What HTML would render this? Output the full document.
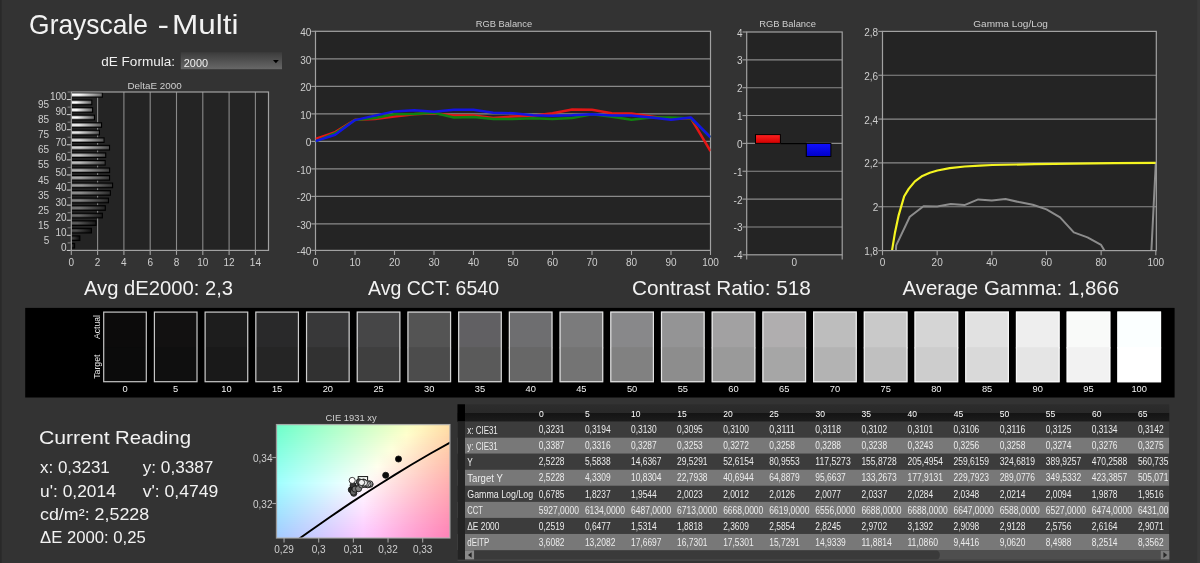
<!DOCTYPE html>
<html><head><meta charset="utf-8"><title>Grayscale - Multi</title>
<style>html,body{margin:0;padding:0;background:#333333;overflow:hidden}svg{display:block}text{font-family:"Liberation Sans",sans-serif}</style>
</head><body>
<svg width="1200" height="563" viewBox="0 0 1200 563">
<defs>
<linearGradient id="dd" x1="0" y1="0" x2="0" y2="1"><stop offset="0" stop-color="#3b3b3b"/><stop offset="1" stop-color="#686868"/></linearGradient>
<linearGradient id="cyl" x1="0" y1="0" x2="0" y2="1"><stop offset="0" stop-color="#000" stop-opacity="0.4"/><stop offset="0.4" stop-color="#000" stop-opacity="0"/><stop offset="0.6" stop-color="#000" stop-opacity="0"/><stop offset="1" stop-color="#000" stop-opacity="0.45"/></linearGradient>
<linearGradient id="b0" x1="0" y1="0" x2="1" y2="0"><stop offset="0" stop-color="rgb(47,47,47)"/><stop offset="0.25" stop-color="rgb(47,47,47)"/><stop offset="1" stop-color="rgb(4,4,4)"/></linearGradient>
<linearGradient id="b1" x1="0" y1="0" x2="1" y2="0"><stop offset="0" stop-color="rgb(59,59,59)"/><stop offset="0.25" stop-color="rgb(59,59,59)"/><stop offset="1" stop-color="rgb(9,9,9)"/></linearGradient>
<linearGradient id="b2" x1="0" y1="0" x2="1" y2="0"><stop offset="0" stop-color="rgb(76,76,76)"/><stop offset="0.25" stop-color="rgb(76,76,76)"/><stop offset="1" stop-color="rgb(16,16,16)"/></linearGradient>
<linearGradient id="b3" x1="0" y1="0" x2="1" y2="0"><stop offset="0" stop-color="rgb(91,91,91)"/><stop offset="0.25" stop-color="rgb(91,91,91)"/><stop offset="1" stop-color="rgb(23,23,23)"/></linearGradient>
<linearGradient id="b4" x1="0" y1="0" x2="1" y2="0"><stop offset="0" stop-color="rgb(104,104,104)"/><stop offset="0.25" stop-color="rgb(104,104,104)"/><stop offset="1" stop-color="rgb(29,29,29)"/></linearGradient>
<linearGradient id="b5" x1="0" y1="0" x2="1" y2="0"><stop offset="0" stop-color="rgb(117,117,117)"/><stop offset="0.25" stop-color="rgb(117,117,117)"/><stop offset="1" stop-color="rgb(35,35,35)"/></linearGradient>
<linearGradient id="b6" x1="0" y1="0" x2="1" y2="0"><stop offset="0" stop-color="rgb(130,130,130)"/><stop offset="0.25" stop-color="rgb(130,130,130)"/><stop offset="1" stop-color="rgb(40,40,40)"/></linearGradient>
<linearGradient id="b7" x1="0" y1="0" x2="1" y2="0"><stop offset="0" stop-color="rgb(142,142,142)"/><stop offset="0.25" stop-color="rgb(142,142,142)"/><stop offset="1" stop-color="rgb(46,46,46)"/></linearGradient>
<linearGradient id="b8" x1="0" y1="0" x2="1" y2="0"><stop offset="0" stop-color="rgb(154,154,154)"/><stop offset="0.25" stop-color="rgb(154,154,154)"/><stop offset="1" stop-color="rgb(51,51,51)"/></linearGradient>
<linearGradient id="b9" x1="0" y1="0" x2="1" y2="0"><stop offset="0" stop-color="rgb(166,166,166)"/><stop offset="0.25" stop-color="rgb(166,166,166)"/><stop offset="1" stop-color="rgb(56,56,56)"/></linearGradient>
<linearGradient id="b10" x1="0" y1="0" x2="1" y2="0"><stop offset="0" stop-color="rgb(176,176,176)"/><stop offset="0.25" stop-color="rgb(176,176,176)"/><stop offset="1" stop-color="rgb(61,61,61)"/></linearGradient>
<linearGradient id="b11" x1="0" y1="0" x2="1" y2="0"><stop offset="0" stop-color="rgb(188,188,188)"/><stop offset="0.25" stop-color="rgb(188,188,188)"/><stop offset="1" stop-color="rgb(66,66,66)"/></linearGradient>
<linearGradient id="b12" x1="0" y1="0" x2="1" y2="0"><stop offset="0" stop-color="rgb(198,198,198)"/><stop offset="0.25" stop-color="rgb(198,198,198)"/><stop offset="1" stop-color="rgb(70,70,70)"/></linearGradient>
<linearGradient id="b13" x1="0" y1="0" x2="1" y2="0"><stop offset="0" stop-color="rgb(209,209,209)"/><stop offset="0.25" stop-color="rgb(209,209,209)"/><stop offset="1" stop-color="rgb(76,76,76)"/></linearGradient>
<linearGradient id="b14" x1="0" y1="0" x2="1" y2="0"><stop offset="0" stop-color="rgb(220,220,220)"/><stop offset="0.25" stop-color="rgb(220,220,220)"/><stop offset="1" stop-color="rgb(80,80,80)"/></linearGradient>
<linearGradient id="b15" x1="0" y1="0" x2="1" y2="0"><stop offset="0" stop-color="rgb(230,230,230)"/><stop offset="0.25" stop-color="rgb(230,230,230)"/><stop offset="1" stop-color="rgb(85,85,85)"/></linearGradient>
<linearGradient id="b16" x1="0" y1="0" x2="1" y2="0"><stop offset="0" stop-color="rgb(240,240,240)"/><stop offset="0.25" stop-color="rgb(240,240,240)"/><stop offset="1" stop-color="rgb(89,89,89)"/></linearGradient>
<linearGradient id="b17" x1="0" y1="0" x2="1" y2="0"><stop offset="0" stop-color="rgb(250,250,250)"/><stop offset="0.25" stop-color="rgb(250,250,250)"/><stop offset="1" stop-color="rgb(94,94,94)"/></linearGradient>
<linearGradient id="b18" x1="0" y1="0" x2="1" y2="0"><stop offset="0" stop-color="rgb(255,255,255)"/><stop offset="0.25" stop-color="rgb(255,255,255)"/><stop offset="1" stop-color="rgb(98,98,98)"/></linearGradient>
<linearGradient id="b19" x1="0" y1="0" x2="1" y2="0"><stop offset="0" stop-color="rgb(255,255,255)"/><stop offset="0.25" stop-color="rgb(255,255,255)"/><stop offset="1" stop-color="rgb(102,102,102)"/></linearGradient>
<linearGradient id="b20" x1="0" y1="0" x2="1" y2="0"><stop offset="0" stop-color="rgb(255,255,255)"/><stop offset="0.25" stop-color="rgb(255,255,255)"/><stop offset="1" stop-color="rgb(107,107,107)"/></linearGradient>
<clipPath id="rc"><rect x="315.5" y="31.3" width="395.0" height="219.1"/></clipPath>
<linearGradient id="rg" x1="0" y1="0" x2="0" y2="1"><stop offset="0" stop-color="#ff2020"/><stop offset="1" stop-color="#d00000"/></linearGradient>
<linearGradient id="bg" x1="0" y1="0" x2="0" y2="1"><stop offset="0" stop-color="#1010ff"/><stop offset="1" stop-color="#0000c8"/></linearGradient>
<clipPath id="gc"><rect x="882.5" y="31.4" width="273.79999999999995" height="219.2"/></clipPath>
<linearGradient id="c0" x1="0" y1="0" x2="1" y2="0"><stop offset="0.0000" stop-color="rgb(109, 255, 202)"/><stop offset="0.0833" stop-color="rgb(125, 255, 201)"/><stop offset="0.1667" stop-color="rgb(142, 255, 200)"/><stop offset="0.2500" stop-color="rgb(157, 255, 200)"/><stop offset="0.3333" stop-color="rgb(173, 255, 199)"/><stop offset="0.4167" stop-color="rgb(188, 255, 199)"/><stop offset="0.5000" stop-color="rgb(203, 255, 198)"/><stop offset="0.5833" stop-color="rgb(217, 255, 197)"/><stop offset="0.6667" stop-color="rgb(232, 255, 197)"/><stop offset="0.7500" stop-color="rgb(246, 255, 196)"/><stop offset="0.8333" stop-color="rgb(255, 250, 190)"/><stop offset="0.9167" stop-color="rgb(255, 236, 177)"/><stop offset="1.0000" stop-color="rgb(255, 223, 165)"/></linearGradient>
<linearGradient id="c1" x1="0" y1="0" x2="1" y2="0"><stop offset="0.0000" stop-color="rgb(111, 255, 203)"/><stop offset="0.0833" stop-color="rgb(127, 255, 203)"/><stop offset="0.1667" stop-color="rgb(143, 255, 202)"/><stop offset="0.2500" stop-color="rgb(159, 255, 202)"/><stop offset="0.3333" stop-color="rgb(174, 255, 201)"/><stop offset="0.4167" stop-color="rgb(189, 255, 200)"/><stop offset="0.5000" stop-color="rgb(204, 255, 200)"/><stop offset="0.5833" stop-color="rgb(219, 255, 199)"/><stop offset="0.6667" stop-color="rgb(234, 255, 198)"/><stop offset="0.7500" stop-color="rgb(248, 255, 198)"/><stop offset="0.8333" stop-color="rgb(255, 248, 191)"/><stop offset="0.9167" stop-color="rgb(255, 234, 178)"/><stop offset="1.0000" stop-color="rgb(255, 222, 165)"/></linearGradient>
<linearGradient id="c2" x1="0" y1="0" x2="1" y2="0"><stop offset="0.0000" stop-color="rgb(112, 255, 205)"/><stop offset="0.0833" stop-color="rgb(129, 255, 205)"/><stop offset="0.1667" stop-color="rgb(145, 255, 204)"/><stop offset="0.2500" stop-color="rgb(161, 255, 203)"/><stop offset="0.3333" stop-color="rgb(176, 255, 203)"/><stop offset="0.4167" stop-color="rgb(191, 255, 202)"/><stop offset="0.5000" stop-color="rgb(206, 255, 202)"/><stop offset="0.5833" stop-color="rgb(221, 255, 201)"/><stop offset="0.6667" stop-color="rgb(235, 255, 200)"/><stop offset="0.7500" stop-color="rgb(250, 255, 200)"/><stop offset="0.8333" stop-color="rgb(255, 246, 191)"/><stop offset="0.9167" stop-color="rgb(255, 233, 178)"/><stop offset="1.0000" stop-color="rgb(255, 220, 166)"/></linearGradient>
<linearGradient id="c3" x1="0" y1="0" x2="1" y2="0"><stop offset="0.0000" stop-color="rgb(114, 255, 207)"/><stop offset="0.0833" stop-color="rgb(130, 255, 206)"/><stop offset="0.1667" stop-color="rgb(147, 255, 206)"/><stop offset="0.2500" stop-color="rgb(162, 255, 205)"/><stop offset="0.3333" stop-color="rgb(178, 255, 205)"/><stop offset="0.4167" stop-color="rgb(193, 255, 204)"/><stop offset="0.5000" stop-color="rgb(208, 255, 203)"/><stop offset="0.5833" stop-color="rgb(223, 255, 203)"/><stop offset="0.6667" stop-color="rgb(237, 255, 202)"/><stop offset="0.7500" stop-color="rgb(252, 255, 202)"/><stop offset="0.8333" stop-color="rgb(255, 244, 191)"/><stop offset="0.9167" stop-color="rgb(255, 231, 178)"/><stop offset="1.0000" stop-color="rgb(255, 218, 166)"/></linearGradient>
<linearGradient id="c4" x1="0" y1="0" x2="1" y2="0"><stop offset="0.0000" stop-color="rgb(116, 255, 209)"/><stop offset="0.0833" stop-color="rgb(132, 255, 208)"/><stop offset="0.1667" stop-color="rgb(148, 255, 208)"/><stop offset="0.2500" stop-color="rgb(164, 255, 207)"/><stop offset="0.3333" stop-color="rgb(179, 255, 206)"/><stop offset="0.4167" stop-color="rgb(195, 255, 206)"/><stop offset="0.5000" stop-color="rgb(210, 255, 205)"/><stop offset="0.5833" stop-color="rgb(224, 255, 205)"/><stop offset="0.6667" stop-color="rgb(239, 255, 204)"/><stop offset="0.7500" stop-color="rgb(253, 255, 204)"/><stop offset="0.8333" stop-color="rgb(255, 243, 192)"/><stop offset="0.9167" stop-color="rgb(255, 229, 179)"/><stop offset="1.0000" stop-color="rgb(255, 217, 167)"/></linearGradient>
<linearGradient id="c5" x1="0" y1="0" x2="1" y2="0"><stop offset="0.0000" stop-color="rgb(117, 255, 210)"/><stop offset="0.0833" stop-color="rgb(134, 255, 210)"/><stop offset="0.1667" stop-color="rgb(150, 255, 209)"/><stop offset="0.2500" stop-color="rgb(166, 255, 209)"/><stop offset="0.3333" stop-color="rgb(181, 255, 208)"/><stop offset="0.4167" stop-color="rgb(196, 255, 208)"/><stop offset="0.5000" stop-color="rgb(211, 255, 207)"/><stop offset="0.5833" stop-color="rgb(226, 255, 207)"/><stop offset="0.6667" stop-color="rgb(241, 255, 206)"/><stop offset="0.7500" stop-color="rgb(255, 255, 205)"/><stop offset="0.8333" stop-color="rgb(255, 241, 192)"/><stop offset="0.9167" stop-color="rgb(255, 228, 179)"/><stop offset="1.0000" stop-color="rgb(255, 215, 167)"/></linearGradient>
<linearGradient id="c6" x1="0" y1="0" x2="1" y2="0"><stop offset="0.0000" stop-color="rgb(119, 255, 212)"/><stop offset="0.0833" stop-color="rgb(135, 255, 212)"/><stop offset="0.1667" stop-color="rgb(152, 255, 211)"/><stop offset="0.2500" stop-color="rgb(167, 255, 211)"/><stop offset="0.3333" stop-color="rgb(183, 255, 210)"/><stop offset="0.4167" stop-color="rgb(198, 255, 210)"/><stop offset="0.5000" stop-color="rgb(213, 255, 209)"/><stop offset="0.5833" stop-color="rgb(228, 255, 209)"/><stop offset="0.6667" stop-color="rgb(243, 255, 208)"/><stop offset="0.7500" stop-color="rgb(255, 253, 206)"/><stop offset="0.8333" stop-color="rgb(255, 239, 192)"/><stop offset="0.9167" stop-color="rgb(255, 226, 179)"/><stop offset="1.0000" stop-color="rgb(255, 213, 167)"/></linearGradient>
<linearGradient id="c7" x1="0" y1="0" x2="1" y2="0"><stop offset="0.0000" stop-color="rgb(121, 255, 214)"/><stop offset="0.0833" stop-color="rgb(137, 255, 213)"/><stop offset="0.1667" stop-color="rgb(153, 255, 213)"/><stop offset="0.2500" stop-color="rgb(169, 255, 213)"/><stop offset="0.3333" stop-color="rgb(185, 255, 212)"/><stop offset="0.4167" stop-color="rgb(200, 255, 212)"/><stop offset="0.5000" stop-color="rgb(215, 255, 211)"/><stop offset="0.5833" stop-color="rgb(230, 255, 211)"/><stop offset="0.6667" stop-color="rgb(244, 255, 210)"/><stop offset="0.7500" stop-color="rgb(255, 251, 206)"/><stop offset="0.8333" stop-color="rgb(255, 237, 193)"/><stop offset="0.9167" stop-color="rgb(255, 224, 180)"/><stop offset="1.0000" stop-color="rgb(255, 212, 168)"/></linearGradient>
<linearGradient id="c8" x1="0" y1="0" x2="1" y2="0"><stop offset="0.0000" stop-color="rgb(122, 255, 216)"/><stop offset="0.0833" stop-color="rgb(139, 255, 215)"/><stop offset="0.1667" stop-color="rgb(155, 255, 215)"/><stop offset="0.2500" stop-color="rgb(171, 255, 214)"/><stop offset="0.3333" stop-color="rgb(186, 255, 214)"/><stop offset="0.4167" stop-color="rgb(202, 255, 213)"/><stop offset="0.5000" stop-color="rgb(217, 255, 213)"/><stop offset="0.5833" stop-color="rgb(231, 255, 212)"/><stop offset="0.6667" stop-color="rgb(246, 255, 212)"/><stop offset="0.7500" stop-color="rgb(255, 249, 206)"/><stop offset="0.8333" stop-color="rgb(255, 236, 193)"/><stop offset="0.9167" stop-color="rgb(255, 222, 180)"/><stop offset="1.0000" stop-color="rgb(255, 210, 168)"/></linearGradient>
<linearGradient id="c9" x1="0" y1="0" x2="1" y2="0"><stop offset="0.0000" stop-color="rgb(124, 255, 217)"/><stop offset="0.0833" stop-color="rgb(140, 255, 217)"/><stop offset="0.1667" stop-color="rgb(157, 255, 217)"/><stop offset="0.2500" stop-color="rgb(172, 255, 216)"/><stop offset="0.3333" stop-color="rgb(188, 255, 216)"/><stop offset="0.4167" stop-color="rgb(203, 255, 215)"/><stop offset="0.5000" stop-color="rgb(218, 255, 215)"/><stop offset="0.5833" stop-color="rgb(233, 255, 214)"/><stop offset="0.6667" stop-color="rgb(248, 255, 214)"/><stop offset="0.7500" stop-color="rgb(255, 248, 207)"/><stop offset="0.8333" stop-color="rgb(255, 234, 193)"/><stop offset="0.9167" stop-color="rgb(255, 221, 180)"/><stop offset="1.0000" stop-color="rgb(255, 208, 168)"/></linearGradient>
<linearGradient id="c10" x1="0" y1="0" x2="1" y2="0"><stop offset="0.0000" stop-color="rgb(126, 255, 219)"/><stop offset="0.0833" stop-color="rgb(142, 255, 219)"/><stop offset="0.1667" stop-color="rgb(158, 255, 219)"/><stop offset="0.2500" stop-color="rgb(174, 255, 218)"/><stop offset="0.3333" stop-color="rgb(190, 255, 218)"/><stop offset="0.4167" stop-color="rgb(205, 255, 217)"/><stop offset="0.5000" stop-color="rgb(220, 255, 217)"/><stop offset="0.5833" stop-color="rgb(235, 255, 216)"/><stop offset="0.6667" stop-color="rgb(250, 255, 216)"/><stop offset="0.7500" stop-color="rgb(255, 246, 207)"/><stop offset="0.8333" stop-color="rgb(255, 232, 193)"/><stop offset="0.9167" stop-color="rgb(255, 219, 181)"/><stop offset="1.0000" stop-color="rgb(255, 207, 169)"/></linearGradient>
<linearGradient id="c11" x1="0" y1="0" x2="1" y2="0"><stop offset="0.0000" stop-color="rgb(127, 255, 221)"/><stop offset="0.0833" stop-color="rgb(144, 255, 221)"/><stop offset="0.1667" stop-color="rgb(160, 255, 220)"/><stop offset="0.2500" stop-color="rgb(176, 255, 220)"/><stop offset="0.3333" stop-color="rgb(191, 255, 220)"/><stop offset="0.4167" stop-color="rgb(207, 255, 219)"/><stop offset="0.5000" stop-color="rgb(222, 255, 219)"/><stop offset="0.5833" stop-color="rgb(237, 255, 218)"/><stop offset="0.6667" stop-color="rgb(252, 255, 218)"/><stop offset="0.7500" stop-color="rgb(255, 244, 207)"/><stop offset="0.8333" stop-color="rgb(255, 230, 194)"/><stop offset="0.9167" stop-color="rgb(255, 217, 181)"/><stop offset="1.0000" stop-color="rgb(255, 205, 169)"/></linearGradient>
<linearGradient id="c12" x1="0" y1="0" x2="1" y2="0"><stop offset="0.0000" stop-color="rgb(129, 255, 223)"/><stop offset="0.0833" stop-color="rgb(146, 255, 223)"/><stop offset="0.1667" stop-color="rgb(162, 255, 222)"/><stop offset="0.2500" stop-color="rgb(178, 255, 222)"/><stop offset="0.3333" stop-color="rgb(193, 255, 221)"/><stop offset="0.4167" stop-color="rgb(209, 255, 221)"/><stop offset="0.5000" stop-color="rgb(224, 255, 221)"/><stop offset="0.5833" stop-color="rgb(239, 255, 220)"/><stop offset="0.6667" stop-color="rgb(253, 255, 220)"/><stop offset="0.7500" stop-color="rgb(255, 242, 207)"/><stop offset="0.8333" stop-color="rgb(255, 229, 194)"/><stop offset="0.9167" stop-color="rgb(255, 216, 181)"/><stop offset="1.0000" stop-color="rgb(255, 203, 169)"/></linearGradient>
<linearGradient id="c13" x1="0" y1="0" x2="1" y2="0"><stop offset="0.0000" stop-color="rgb(131, 255, 225)"/><stop offset="0.0833" stop-color="rgb(147, 255, 224)"/><stop offset="0.1667" stop-color="rgb(163, 255, 224)"/><stop offset="0.2500" stop-color="rgb(179, 255, 224)"/><stop offset="0.3333" stop-color="rgb(195, 255, 223)"/><stop offset="0.4167" stop-color="rgb(210, 255, 223)"/><stop offset="0.5000" stop-color="rgb(226, 255, 223)"/><stop offset="0.5833" stop-color="rgb(241, 255, 222)"/><stop offset="0.6667" stop-color="rgb(255, 255, 222)"/><stop offset="0.7500" stop-color="rgb(255, 240, 208)"/><stop offset="0.8333" stop-color="rgb(255, 227, 194)"/><stop offset="0.9167" stop-color="rgb(255, 214, 182)"/><stop offset="1.0000" stop-color="rgb(255, 202, 170)"/></linearGradient>
<linearGradient id="c14" x1="0" y1="0" x2="1" y2="0"><stop offset="0.0000" stop-color="rgb(132, 255, 227)"/><stop offset="0.0833" stop-color="rgb(149, 255, 226)"/><stop offset="0.1667" stop-color="rgb(165, 255, 226)"/><stop offset="0.2500" stop-color="rgb(181, 255, 226)"/><stop offset="0.3333" stop-color="rgb(197, 255, 225)"/><stop offset="0.4167" stop-color="rgb(212, 255, 225)"/><stop offset="0.5000" stop-color="rgb(227, 255, 225)"/><stop offset="0.5833" stop-color="rgb(242, 255, 224)"/><stop offset="0.6667" stop-color="rgb(255, 253, 222)"/><stop offset="0.7500" stop-color="rgb(255, 239, 208)"/><stop offset="0.8333" stop-color="rgb(255, 225, 195)"/><stop offset="0.9167" stop-color="rgb(255, 212, 182)"/><stop offset="1.0000" stop-color="rgb(255, 200, 170)"/></linearGradient>
<linearGradient id="c15" x1="0" y1="0" x2="1" y2="0"><stop offset="0.0000" stop-color="rgb(134, 255, 228)"/><stop offset="0.0833" stop-color="rgb(151, 255, 228)"/><stop offset="0.1667" stop-color="rgb(167, 255, 228)"/><stop offset="0.2500" stop-color="rgb(183, 255, 228)"/><stop offset="0.3333" stop-color="rgb(199, 255, 227)"/><stop offset="0.4167" stop-color="rgb(214, 255, 227)"/><stop offset="0.5000" stop-color="rgb(229, 255, 227)"/><stop offset="0.5833" stop-color="rgb(244, 255, 226)"/><stop offset="0.6667" stop-color="rgb(255, 251, 222)"/><stop offset="0.7500" stop-color="rgb(255, 237, 208)"/><stop offset="0.8333" stop-color="rgb(255, 223, 195)"/><stop offset="0.9167" stop-color="rgb(255, 210, 182)"/><stop offset="1.0000" stop-color="rgb(255, 198, 171)"/></linearGradient>
<linearGradient id="c16" x1="0" y1="0" x2="1" y2="0"><stop offset="0.0000" stop-color="rgb(136, 255, 230)"/><stop offset="0.0833" stop-color="rgb(152, 255, 230)"/><stop offset="0.1667" stop-color="rgb(169, 255, 230)"/><stop offset="0.2500" stop-color="rgb(185, 255, 229)"/><stop offset="0.3333" stop-color="rgb(200, 255, 229)"/><stop offset="0.4167" stop-color="rgb(216, 255, 229)"/><stop offset="0.5000" stop-color="rgb(231, 255, 229)"/><stop offset="0.5833" stop-color="rgb(246, 255, 228)"/><stop offset="0.6667" stop-color="rgb(255, 249, 222)"/><stop offset="0.7500" stop-color="rgb(255, 235, 208)"/><stop offset="0.8333" stop-color="rgb(255, 221, 195)"/><stop offset="0.9167" stop-color="rgb(255, 209, 183)"/><stop offset="1.0000" stop-color="rgb(255, 197, 171)"/></linearGradient>
<linearGradient id="c17" x1="0" y1="0" x2="1" y2="0"><stop offset="0.0000" stop-color="rgb(138, 255, 232)"/><stop offset="0.0833" stop-color="rgb(154, 255, 232)"/><stop offset="0.1667" stop-color="rgb(170, 255, 232)"/><stop offset="0.2500" stop-color="rgb(186, 255, 231)"/><stop offset="0.3333" stop-color="rgb(202, 255, 231)"/><stop offset="0.4167" stop-color="rgb(218, 255, 231)"/><stop offset="0.5000" stop-color="rgb(233, 255, 231)"/><stop offset="0.5833" stop-color="rgb(248, 255, 230)"/><stop offset="0.6667" stop-color="rgb(255, 247, 223)"/><stop offset="0.7500" stop-color="rgb(255, 233, 209)"/><stop offset="0.8333" stop-color="rgb(255, 220, 196)"/><stop offset="0.9167" stop-color="rgb(255, 207, 183)"/><stop offset="1.0000" stop-color="rgb(255, 195, 171)"/></linearGradient>
<linearGradient id="c18" x1="0" y1="0" x2="1" y2="0"><stop offset="0.0000" stop-color="rgb(139, 255, 234)"/><stop offset="0.0833" stop-color="rgb(156, 255, 234)"/><stop offset="0.1667" stop-color="rgb(172, 255, 234)"/><stop offset="0.2500" stop-color="rgb(188, 255, 233)"/><stop offset="0.3333" stop-color="rgb(204, 255, 233)"/><stop offset="0.4167" stop-color="rgb(219, 255, 233)"/><stop offset="0.5000" stop-color="rgb(235, 255, 233)"/><stop offset="0.5833" stop-color="rgb(250, 255, 232)"/><stop offset="0.6667" stop-color="rgb(255, 245, 223)"/><stop offset="0.7500" stop-color="rgb(255, 231, 209)"/><stop offset="0.8333" stop-color="rgb(255, 218, 196)"/><stop offset="0.9167" stop-color="rgb(255, 205, 183)"/><stop offset="1.0000" stop-color="rgb(255, 193, 172)"/></linearGradient>
<linearGradient id="c19" x1="0" y1="0" x2="1" y2="0"><stop offset="0.0000" stop-color="rgb(141, 255, 236)"/><stop offset="0.0833" stop-color="rgb(158, 255, 236)"/><stop offset="0.1667" stop-color="rgb(174, 255, 235)"/><stop offset="0.2500" stop-color="rgb(190, 255, 235)"/><stop offset="0.3333" stop-color="rgb(206, 255, 235)"/><stop offset="0.4167" stop-color="rgb(221, 255, 235)"/><stop offset="0.5000" stop-color="rgb(237, 255, 235)"/><stop offset="0.5833" stop-color="rgb(252, 255, 234)"/><stop offset="0.6667" stop-color="rgb(255, 244, 223)"/><stop offset="0.7500" stop-color="rgb(255, 230, 209)"/><stop offset="0.8333" stop-color="rgb(255, 216, 196)"/><stop offset="0.9167" stop-color="rgb(255, 204, 184)"/><stop offset="1.0000" stop-color="rgb(255, 192, 172)"/></linearGradient>
<linearGradient id="c20" x1="0" y1="0" x2="1" y2="0"><stop offset="0.0000" stop-color="rgb(143, 255, 238)"/><stop offset="0.0833" stop-color="rgb(159, 255, 238)"/><stop offset="0.1667" stop-color="rgb(176, 255, 237)"/><stop offset="0.2500" stop-color="rgb(192, 255, 237)"/><stop offset="0.3333" stop-color="rgb(208, 255, 237)"/><stop offset="0.4167" stop-color="rgb(223, 255, 237)"/><stop offset="0.5000" stop-color="rgb(238, 255, 237)"/><stop offset="0.5833" stop-color="rgb(254, 255, 236)"/><stop offset="0.6667" stop-color="rgb(255, 242, 223)"/><stop offset="0.7500" stop-color="rgb(255, 228, 210)"/><stop offset="0.8333" stop-color="rgb(255, 215, 197)"/><stop offset="0.9167" stop-color="rgb(255, 202, 184)"/><stop offset="1.0000" stop-color="rgb(255, 190, 172)"/></linearGradient>
<linearGradient id="c21" x1="0" y1="0" x2="1" y2="0"><stop offset="0.0000" stop-color="rgb(145, 255, 240)"/><stop offset="0.0833" stop-color="rgb(161, 255, 239)"/><stop offset="0.1667" stop-color="rgb(178, 255, 239)"/><stop offset="0.2500" stop-color="rgb(194, 255, 239)"/><stop offset="0.3333" stop-color="rgb(209, 255, 239)"/><stop offset="0.4167" stop-color="rgb(225, 255, 239)"/><stop offset="0.5000" stop-color="rgb(240, 255, 239)"/><stop offset="0.5833" stop-color="rgb(255, 255, 238)"/><stop offset="0.6667" stop-color="rgb(255, 240, 224)"/><stop offset="0.7500" stop-color="rgb(255, 226, 210)"/><stop offset="0.8333" stop-color="rgb(255, 213, 197)"/><stop offset="0.9167" stop-color="rgb(255, 200, 184)"/><stop offset="1.0000" stop-color="rgb(255, 188, 173)"/></linearGradient>
<linearGradient id="c22" x1="0" y1="0" x2="1" y2="0"><stop offset="0.0000" stop-color="rgb(146, 255, 242)"/><stop offset="0.0833" stop-color="rgb(163, 255, 241)"/><stop offset="0.1667" stop-color="rgb(179, 255, 241)"/><stop offset="0.2500" stop-color="rgb(195, 255, 241)"/><stop offset="0.3333" stop-color="rgb(211, 255, 241)"/><stop offset="0.4167" stop-color="rgb(227, 255, 241)"/><stop offset="0.5000" stop-color="rgb(242, 255, 241)"/><stop offset="0.5833" stop-color="rgb(255, 253, 238)"/><stop offset="0.6667" stop-color="rgb(255, 238, 224)"/><stop offset="0.7500" stop-color="rgb(255, 224, 210)"/><stop offset="0.8333" stop-color="rgb(255, 211, 197)"/><stop offset="0.9167" stop-color="rgb(255, 199, 185)"/><stop offset="1.0000" stop-color="rgb(255, 187, 173)"/></linearGradient>
<linearGradient id="c23" x1="0" y1="0" x2="1" y2="0"><stop offset="0.0000" stop-color="rgb(148, 255, 243)"/><stop offset="0.0833" stop-color="rgb(165, 255, 243)"/><stop offset="0.1667" stop-color="rgb(181, 255, 243)"/><stop offset="0.2500" stop-color="rgb(197, 255, 243)"/><stop offset="0.3333" stop-color="rgb(213, 255, 243)"/><stop offset="0.4167" stop-color="rgb(229, 255, 243)"/><stop offset="0.5000" stop-color="rgb(244, 255, 243)"/><stop offset="0.5833" stop-color="rgb(255, 251, 238)"/><stop offset="0.6667" stop-color="rgb(255, 236, 224)"/><stop offset="0.7500" stop-color="rgb(255, 222, 210)"/><stop offset="0.8333" stop-color="rgb(255, 209, 197)"/><stop offset="0.9167" stop-color="rgb(255, 197, 185)"/><stop offset="1.0000" stop-color="rgb(255, 185, 173)"/></linearGradient>
<linearGradient id="c24" x1="0" y1="0" x2="1" y2="0"><stop offset="0.0000" stop-color="rgb(150, 255, 245)"/><stop offset="0.0833" stop-color="rgb(167, 255, 245)"/><stop offset="0.1667" stop-color="rgb(183, 255, 245)"/><stop offset="0.2500" stop-color="rgb(199, 255, 245)"/><stop offset="0.3333" stop-color="rgb(215, 255, 245)"/><stop offset="0.4167" stop-color="rgb(231, 255, 245)"/><stop offset="0.5000" stop-color="rgb(246, 255, 245)"/><stop offset="0.5833" stop-color="rgb(255, 249, 239)"/><stop offset="0.6667" stop-color="rgb(255, 234, 224)"/><stop offset="0.7500" stop-color="rgb(255, 221, 211)"/><stop offset="0.8333" stop-color="rgb(255, 208, 198)"/><stop offset="0.9167" stop-color="rgb(255, 195, 185)"/><stop offset="1.0000" stop-color="rgb(255, 183, 174)"/></linearGradient>
<linearGradient id="c25" x1="0" y1="0" x2="1" y2="0"><stop offset="0.0000" stop-color="rgb(152, 255, 247)"/><stop offset="0.0833" stop-color="rgb(168, 255, 247)"/><stop offset="0.1667" stop-color="rgb(185, 255, 247)"/><stop offset="0.2500" stop-color="rgb(201, 255, 247)"/><stop offset="0.3333" stop-color="rgb(217, 255, 247)"/><stop offset="0.4167" stop-color="rgb(232, 255, 247)"/><stop offset="0.5000" stop-color="rgb(248, 255, 247)"/><stop offset="0.5833" stop-color="rgb(255, 247, 239)"/><stop offset="0.6667" stop-color="rgb(255, 232, 224)"/><stop offset="0.7500" stop-color="rgb(255, 219, 211)"/><stop offset="0.8333" stop-color="rgb(255, 206, 198)"/><stop offset="0.9167" stop-color="rgb(255, 193, 186)"/><stop offset="1.0000" stop-color="rgb(255, 182, 174)"/></linearGradient>
<linearGradient id="c26" x1="0" y1="0" x2="1" y2="0"><stop offset="0.0000" stop-color="rgb(153, 255, 249)"/><stop offset="0.0833" stop-color="rgb(170, 255, 249)"/><stop offset="0.1667" stop-color="rgb(187, 255, 249)"/><stop offset="0.2500" stop-color="rgb(203, 255, 249)"/><stop offset="0.3333" stop-color="rgb(219, 255, 249)"/><stop offset="0.4167" stop-color="rgb(234, 255, 249)"/><stop offset="0.5000" stop-color="rgb(250, 255, 249)"/><stop offset="0.5833" stop-color="rgb(255, 245, 239)"/><stop offset="0.6667" stop-color="rgb(255, 231, 225)"/><stop offset="0.7500" stop-color="rgb(255, 217, 211)"/><stop offset="0.8333" stop-color="rgb(255, 204, 198)"/><stop offset="0.9167" stop-color="rgb(255, 192, 186)"/><stop offset="1.0000" stop-color="rgb(255, 180, 174)"/></linearGradient>
<linearGradient id="c27" x1="0" y1="0" x2="1" y2="0"><stop offset="0.0000" stop-color="rgb(155, 255, 251)"/><stop offset="0.0833" stop-color="rgb(172, 255, 251)"/><stop offset="0.1667" stop-color="rgb(188, 255, 251)"/><stop offset="0.2500" stop-color="rgb(205, 255, 251)"/><stop offset="0.3333" stop-color="rgb(220, 255, 251)"/><stop offset="0.4167" stop-color="rgb(236, 255, 251)"/><stop offset="0.5000" stop-color="rgb(252, 255, 251)"/><stop offset="0.5833" stop-color="rgb(255, 243, 239)"/><stop offset="0.6667" stop-color="rgb(255, 229, 225)"/><stop offset="0.7500" stop-color="rgb(255, 215, 211)"/><stop offset="0.8333" stop-color="rgb(255, 202, 199)"/><stop offset="0.9167" stop-color="rgb(255, 190, 186)"/><stop offset="1.0000" stop-color="rgb(255, 178, 175)"/></linearGradient>
<linearGradient id="c28" x1="0" y1="0" x2="1" y2="0"><stop offset="0.0000" stop-color="rgb(157, 255, 253)"/><stop offset="0.0833" stop-color="rgb(174, 255, 253)"/><stop offset="0.1667" stop-color="rgb(190, 255, 253)"/><stop offset="0.2500" stop-color="rgb(206, 255, 253)"/><stop offset="0.3333" stop-color="rgb(222, 255, 253)"/><stop offset="0.4167" stop-color="rgb(238, 255, 253)"/><stop offset="0.5000" stop-color="rgb(254, 255, 253)"/><stop offset="0.5833" stop-color="rgb(255, 241, 239)"/><stop offset="0.6667" stop-color="rgb(255, 227, 225)"/><stop offset="0.7500" stop-color="rgb(255, 213, 212)"/><stop offset="0.8333" stop-color="rgb(255, 201, 199)"/><stop offset="0.9167" stop-color="rgb(255, 188, 187)"/><stop offset="1.0000" stop-color="rgb(255, 177, 175)"/></linearGradient>
<linearGradient id="c29" x1="0" y1="0" x2="1" y2="0"><stop offset="0.0000" stop-color="rgb(159, 255, 255)"/><stop offset="0.0833" stop-color="rgb(176, 255, 255)"/><stop offset="0.1667" stop-color="rgb(192, 255, 255)"/><stop offset="0.2500" stop-color="rgb(208, 255, 255)"/><stop offset="0.3333" stop-color="rgb(224, 255, 255)"/><stop offset="0.4167" stop-color="rgb(240, 255, 255)"/><stop offset="0.5000" stop-color="rgb(255, 254, 255)"/><stop offset="0.5833" stop-color="rgb(255, 239, 240)"/><stop offset="0.6667" stop-color="rgb(255, 225, 225)"/><stop offset="0.7500" stop-color="rgb(255, 212, 212)"/><stop offset="0.8333" stop-color="rgb(255, 199, 199)"/><stop offset="0.9167" stop-color="rgb(255, 187, 187)"/><stop offset="1.0000" stop-color="rgb(255, 175, 175)"/></linearGradient>
<linearGradient id="c30" x1="0" y1="0" x2="1" y2="0"><stop offset="0.0000" stop-color="rgb(159, 253, 255)"/><stop offset="0.0833" stop-color="rgb(176, 253, 255)"/><stop offset="0.1667" stop-color="rgb(192, 253, 255)"/><stop offset="0.2500" stop-color="rgb(208, 253, 255)"/><stop offset="0.3333" stop-color="rgb(224, 253, 255)"/><stop offset="0.4167" stop-color="rgb(240, 253, 255)"/><stop offset="0.5000" stop-color="rgb(255, 252, 255)"/><stop offset="0.5833" stop-color="rgb(255, 237, 240)"/><stop offset="0.6667" stop-color="rgb(255, 223, 226)"/><stop offset="0.7500" stop-color="rgb(255, 210, 212)"/><stop offset="0.8333" stop-color="rgb(255, 197, 199)"/><stop offset="0.9167" stop-color="rgb(255, 185, 187)"/><stop offset="1.0000" stop-color="rgb(255, 173, 176)"/></linearGradient>
<linearGradient id="c31" x1="0" y1="0" x2="1" y2="0"><stop offset="0.0000" stop-color="rgb(159, 251, 255)"/><stop offset="0.0833" stop-color="rgb(176, 251, 255)"/><stop offset="0.1667" stop-color="rgb(192, 251, 255)"/><stop offset="0.2500" stop-color="rgb(208, 251, 255)"/><stop offset="0.3333" stop-color="rgb(224, 251, 255)"/><stop offset="0.4167" stop-color="rgb(240, 251, 255)"/><stop offset="0.5000" stop-color="rgb(255, 250, 255)"/><stop offset="0.5833" stop-color="rgb(255, 236, 240)"/><stop offset="0.6667" stop-color="rgb(255, 221, 226)"/><stop offset="0.7500" stop-color="rgb(255, 208, 212)"/><stop offset="0.8333" stop-color="rgb(255, 195, 200)"/><stop offset="0.9167" stop-color="rgb(255, 183, 188)"/><stop offset="1.0000" stop-color="rgb(255, 172, 176)"/></linearGradient>
<linearGradient id="c32" x1="0" y1="0" x2="1" y2="0"><stop offset="0.0000" stop-color="rgb(159, 249, 255)"/><stop offset="0.0833" stop-color="rgb(176, 249, 255)"/><stop offset="0.1667" stop-color="rgb(192, 249, 255)"/><stop offset="0.2500" stop-color="rgb(208, 249, 255)"/><stop offset="0.3333" stop-color="rgb(224, 249, 255)"/><stop offset="0.4167" stop-color="rgb(240, 249, 255)"/><stop offset="0.5000" stop-color="rgb(255, 248, 255)"/><stop offset="0.5833" stop-color="rgb(255, 234, 240)"/><stop offset="0.6667" stop-color="rgb(255, 220, 226)"/><stop offset="0.7500" stop-color="rgb(255, 206, 213)"/><stop offset="0.8333" stop-color="rgb(255, 194, 200)"/><stop offset="0.9167" stop-color="rgb(255, 182, 188)"/><stop offset="1.0000" stop-color="rgb(255, 170, 176)"/></linearGradient>
<linearGradient id="c33" x1="0" y1="0" x2="1" y2="0"><stop offset="0.0000" stop-color="rgb(159, 247, 255)"/><stop offset="0.0833" stop-color="rgb(176, 247, 255)"/><stop offset="0.1667" stop-color="rgb(192, 247, 255)"/><stop offset="0.2500" stop-color="rgb(208, 247, 255)"/><stop offset="0.3333" stop-color="rgb(224, 247, 255)"/><stop offset="0.4167" stop-color="rgb(239, 247, 255)"/><stop offset="0.5000" stop-color="rgb(255, 246, 255)"/><stop offset="0.5833" stop-color="rgb(255, 232, 240)"/><stop offset="0.6667" stop-color="rgb(255, 218, 226)"/><stop offset="0.7500" stop-color="rgb(255, 205, 213)"/><stop offset="0.8333" stop-color="rgb(255, 192, 200)"/><stop offset="0.9167" stop-color="rgb(255, 180, 188)"/><stop offset="1.0000" stop-color="rgb(255, 168, 177)"/></linearGradient>
<linearGradient id="c34" x1="0" y1="0" x2="1" y2="0"><stop offset="0.0000" stop-color="rgb(160, 245, 255)"/><stop offset="0.0833" stop-color="rgb(176, 245, 255)"/><stop offset="0.1667" stop-color="rgb(192, 245, 255)"/><stop offset="0.2500" stop-color="rgb(208, 245, 255)"/><stop offset="0.3333" stop-color="rgb(224, 245, 255)"/><stop offset="0.4167" stop-color="rgb(239, 244, 255)"/><stop offset="0.5000" stop-color="rgb(255, 244, 255)"/><stop offset="0.5833" stop-color="rgb(255, 230, 240)"/><stop offset="0.6667" stop-color="rgb(255, 216, 226)"/><stop offset="0.7500" stop-color="rgb(255, 203, 213)"/><stop offset="0.8333" stop-color="rgb(255, 190, 201)"/><stop offset="0.9167" stop-color="rgb(255, 178, 188)"/><stop offset="1.0000" stop-color="rgb(255, 167, 177)"/></linearGradient>
<linearGradient id="c35" x1="0" y1="0" x2="1" y2="0"><stop offset="0.0000" stop-color="rgb(160, 243, 255)"/><stop offset="0.0833" stop-color="rgb(176, 243, 255)"/><stop offset="0.1667" stop-color="rgb(192, 243, 255)"/><stop offset="0.2500" stop-color="rgb(208, 243, 255)"/><stop offset="0.3333" stop-color="rgb(224, 243, 255)"/><stop offset="0.4167" stop-color="rgb(239, 242, 255)"/><stop offset="0.5000" stop-color="rgb(255, 242, 255)"/><stop offset="0.5833" stop-color="rgb(255, 228, 241)"/><stop offset="0.6667" stop-color="rgb(255, 214, 227)"/><stop offset="0.7500" stop-color="rgb(255, 201, 213)"/><stop offset="0.8333" stop-color="rgb(255, 188, 201)"/><stop offset="0.9167" stop-color="rgb(255, 176, 189)"/><stop offset="1.0000" stop-color="rgb(255, 165, 177)"/></linearGradient>
<linearGradient id="c36" x1="0" y1="0" x2="1" y2="0"><stop offset="0.0000" stop-color="rgb(160, 241, 255)"/><stop offset="0.0833" stop-color="rgb(176, 241, 255)"/><stop offset="0.1667" stop-color="rgb(192, 241, 255)"/><stop offset="0.2500" stop-color="rgb(208, 241, 255)"/><stop offset="0.3333" stop-color="rgb(224, 241, 255)"/><stop offset="0.4167" stop-color="rgb(239, 240, 255)"/><stop offset="0.5000" stop-color="rgb(254, 240, 255)"/><stop offset="0.5833" stop-color="rgb(255, 226, 241)"/><stop offset="0.6667" stop-color="rgb(255, 212, 227)"/><stop offset="0.7500" stop-color="rgb(255, 199, 214)"/><stop offset="0.8333" stop-color="rgb(255, 187, 201)"/><stop offset="0.9167" stop-color="rgb(255, 175, 189)"/><stop offset="1.0000" stop-color="rgb(255, 163, 178)"/></linearGradient>
<linearGradient id="c37" x1="0" y1="0" x2="1" y2="0"><stop offset="0.0000" stop-color="rgb(160, 239, 255)"/><stop offset="0.0833" stop-color="rgb(176, 239, 255)"/><stop offset="0.1667" stop-color="rgb(192, 239, 255)"/><stop offset="0.2500" stop-color="rgb(208, 239, 255)"/><stop offset="0.3333" stop-color="rgb(224, 239, 255)"/><stop offset="0.4167" stop-color="rgb(239, 238, 255)"/><stop offset="0.5000" stop-color="rgb(254, 238, 255)"/><stop offset="0.5833" stop-color="rgb(255, 224, 241)"/><stop offset="0.6667" stop-color="rgb(255, 210, 227)"/><stop offset="0.7500" stop-color="rgb(255, 197, 214)"/><stop offset="0.8333" stop-color="rgb(255, 185, 201)"/><stop offset="0.9167" stop-color="rgb(255, 173, 189)"/><stop offset="1.0000" stop-color="rgb(255, 162, 178)"/></linearGradient>
<linearGradient id="c38" x1="0" y1="0" x2="1" y2="0"><stop offset="0.0000" stop-color="rgb(160, 237, 255)"/><stop offset="0.0833" stop-color="rgb(176, 237, 255)"/><stop offset="0.1667" stop-color="rgb(192, 237, 255)"/><stop offset="0.2500" stop-color="rgb(208, 237, 255)"/><stop offset="0.3333" stop-color="rgb(224, 236, 255)"/><stop offset="0.4167" stop-color="rgb(239, 236, 255)"/><stop offset="0.5000" stop-color="rgb(254, 236, 255)"/><stop offset="0.5833" stop-color="rgb(255, 222, 241)"/><stop offset="0.6667" stop-color="rgb(255, 209, 227)"/><stop offset="0.7500" stop-color="rgb(255, 196, 214)"/><stop offset="0.8333" stop-color="rgb(255, 183, 202)"/><stop offset="0.9167" stop-color="rgb(255, 171, 190)"/><stop offset="1.0000" stop-color="rgb(255, 160, 178)"/></linearGradient>
<linearGradient id="c39" x1="0" y1="0" x2="1" y2="0"><stop offset="0.0000" stop-color="rgb(160, 236, 255)"/><stop offset="0.0833" stop-color="rgb(177, 235, 255)"/><stop offset="0.1667" stop-color="rgb(192, 235, 255)"/><stop offset="0.2500" stop-color="rgb(208, 235, 255)"/><stop offset="0.3333" stop-color="rgb(224, 234, 255)"/><stop offset="0.4167" stop-color="rgb(239, 234, 255)"/><stop offset="0.5000" stop-color="rgb(254, 234, 255)"/><stop offset="0.5833" stop-color="rgb(255, 220, 241)"/><stop offset="0.6667" stop-color="rgb(255, 207, 228)"/><stop offset="0.7500" stop-color="rgb(255, 194, 214)"/><stop offset="0.8333" stop-color="rgb(255, 181, 202)"/><stop offset="0.9167" stop-color="rgb(255, 170, 190)"/><stop offset="1.0000" stop-color="rgb(255, 158, 179)"/></linearGradient>
<linearGradient id="c40" x1="0" y1="0" x2="1" y2="0"><stop offset="0.0000" stop-color="rgb(160, 234, 255)"/><stop offset="0.0833" stop-color="rgb(177, 233, 255)"/><stop offset="0.1667" stop-color="rgb(193, 233, 255)"/><stop offset="0.2500" stop-color="rgb(208, 233, 255)"/><stop offset="0.3333" stop-color="rgb(224, 232, 255)"/><stop offset="0.4167" stop-color="rgb(239, 232, 255)"/><stop offset="0.5000" stop-color="rgb(254, 232, 255)"/><stop offset="0.5833" stop-color="rgb(255, 219, 242)"/><stop offset="0.6667" stop-color="rgb(255, 205, 228)"/><stop offset="0.7500" stop-color="rgb(255, 192, 215)"/><stop offset="0.8333" stop-color="rgb(255, 180, 202)"/><stop offset="0.9167" stop-color="rgb(255, 168, 190)"/><stop offset="1.0000" stop-color="rgb(255, 157, 179)"/></linearGradient>
<linearGradient id="c41" x1="0" y1="0" x2="1" y2="0"><stop offset="0.0000" stop-color="rgb(161, 232, 255)"/><stop offset="0.0833" stop-color="rgb(177, 231, 255)"/><stop offset="0.1667" stop-color="rgb(193, 231, 255)"/><stop offset="0.2500" stop-color="rgb(208, 231, 255)"/><stop offset="0.3333" stop-color="rgb(224, 230, 255)"/><stop offset="0.4167" stop-color="rgb(239, 230, 255)"/><stop offset="0.5000" stop-color="rgb(254, 230, 255)"/><stop offset="0.5833" stop-color="rgb(255, 217, 242)"/><stop offset="0.6667" stop-color="rgb(255, 203, 228)"/><stop offset="0.7500" stop-color="rgb(255, 190, 215)"/><stop offset="0.8333" stop-color="rgb(255, 178, 202)"/><stop offset="0.9167" stop-color="rgb(255, 166, 191)"/><stop offset="1.0000" stop-color="rgb(255, 155, 179)"/></linearGradient>
<linearGradient id="c42" x1="0" y1="0" x2="1" y2="0"><stop offset="0.0000" stop-color="rgb(161, 230, 255)"/><stop offset="0.0833" stop-color="rgb(177, 229, 255)"/><stop offset="0.1667" stop-color="rgb(193, 229, 255)"/><stop offset="0.2500" stop-color="rgb(208, 229, 255)"/><stop offset="0.3333" stop-color="rgb(223, 228, 255)"/><stop offset="0.4167" stop-color="rgb(239, 228, 255)"/><stop offset="0.5000" stop-color="rgb(254, 228, 255)"/><stop offset="0.5833" stop-color="rgb(255, 215, 242)"/><stop offset="0.6667" stop-color="rgb(255, 201, 228)"/><stop offset="0.7500" stop-color="rgb(255, 188, 215)"/><stop offset="0.8333" stop-color="rgb(255, 176, 203)"/><stop offset="0.9167" stop-color="rgb(255, 165, 191)"/><stop offset="1.0000" stop-color="rgb(255, 153, 180)"/></linearGradient>
<linearGradient id="c43" x1="0" y1="0" x2="1" y2="0"><stop offset="0.0000" stop-color="rgb(161, 228, 255)"/><stop offset="0.0833" stop-color="rgb(177, 227, 255)"/><stop offset="0.1667" stop-color="rgb(193, 227, 255)"/><stop offset="0.2500" stop-color="rgb(208, 227, 255)"/><stop offset="0.3333" stop-color="rgb(223, 226, 255)"/><stop offset="0.4167" stop-color="rgb(238, 226, 255)"/><stop offset="0.5000" stop-color="rgb(253, 226, 255)"/><stop offset="0.5833" stop-color="rgb(255, 213, 242)"/><stop offset="0.6667" stop-color="rgb(255, 200, 228)"/><stop offset="0.7500" stop-color="rgb(255, 187, 215)"/><stop offset="0.8333" stop-color="rgb(255, 175, 203)"/><stop offset="0.9167" stop-color="rgb(255, 163, 191)"/><stop offset="1.0000" stop-color="rgb(255, 152, 180)"/></linearGradient>
<linearGradient id="c44" x1="0" y1="0" x2="1" y2="0"><stop offset="0.0000" stop-color="rgb(161, 226, 255)"/><stop offset="0.0833" stop-color="rgb(177, 226, 255)"/><stop offset="0.1667" stop-color="rgb(193, 225, 255)"/><stop offset="0.2500" stop-color="rgb(208, 225, 255)"/><stop offset="0.3333" stop-color="rgb(223, 224, 255)"/><stop offset="0.4167" stop-color="rgb(238, 224, 255)"/><stop offset="0.5000" stop-color="rgb(253, 224, 255)"/><stop offset="0.5833" stop-color="rgb(255, 211, 242)"/><stop offset="0.6667" stop-color="rgb(255, 198, 229)"/><stop offset="0.7500" stop-color="rgb(255, 185, 216)"/><stop offset="0.8333" stop-color="rgb(255, 173, 203)"/><stop offset="0.9167" stop-color="rgb(255, 161, 191)"/><stop offset="1.0000" stop-color="rgb(255, 150, 180)"/></linearGradient>
<linearGradient id="c45" x1="0" y1="0" x2="1" y2="0"><stop offset="0.0000" stop-color="rgb(161, 224, 255)"/><stop offset="0.0833" stop-color="rgb(177, 224, 255)"/><stop offset="0.1667" stop-color="rgb(193, 223, 255)"/><stop offset="0.2500" stop-color="rgb(208, 223, 255)"/><stop offset="0.3333" stop-color="rgb(223, 222, 255)"/><stop offset="0.4167" stop-color="rgb(238, 222, 255)"/><stop offset="0.5000" stop-color="rgb(253, 222, 255)"/><stop offset="0.5833" stop-color="rgb(255, 209, 242)"/><stop offset="0.6667" stop-color="rgb(255, 196, 229)"/><stop offset="0.7500" stop-color="rgb(255, 183, 216)"/><stop offset="0.8333" stop-color="rgb(255, 171, 203)"/><stop offset="0.9167" stop-color="rgb(255, 159, 192)"/><stop offset="1.0000" stop-color="rgb(255, 148, 180)"/></linearGradient>
<linearGradient id="c46" x1="0" y1="0" x2="1" y2="0"><stop offset="0.0000" stop-color="rgb(161, 222, 255)"/><stop offset="0.0833" stop-color="rgb(177, 222, 255)"/><stop offset="0.1667" stop-color="rgb(193, 221, 255)"/><stop offset="0.2500" stop-color="rgb(208, 221, 255)"/><stop offset="0.3333" stop-color="rgb(223, 220, 255)"/><stop offset="0.4167" stop-color="rgb(238, 220, 255)"/><stop offset="0.5000" stop-color="rgb(253, 219, 255)"/><stop offset="0.5833" stop-color="rgb(255, 207, 243)"/><stop offset="0.6667" stop-color="rgb(255, 194, 229)"/><stop offset="0.7500" stop-color="rgb(255, 181, 216)"/><stop offset="0.8333" stop-color="rgb(255, 169, 204)"/><stop offset="0.9167" stop-color="rgb(255, 158, 192)"/><stop offset="1.0000" stop-color="rgb(255, 147, 181)"/></linearGradient>
<linearGradient id="c47" x1="0" y1="0" x2="1" y2="0"><stop offset="0.0000" stop-color="rgb(162, 220, 255)"/><stop offset="0.0833" stop-color="rgb(177, 220, 255)"/><stop offset="0.1667" stop-color="rgb(193, 219, 255)"/><stop offset="0.2500" stop-color="rgb(208, 219, 255)"/><stop offset="0.3333" stop-color="rgb(223, 218, 255)"/><stop offset="0.4167" stop-color="rgb(238, 218, 255)"/><stop offset="0.5000" stop-color="rgb(253, 217, 255)"/><stop offset="0.5833" stop-color="rgb(255, 205, 243)"/><stop offset="0.6667" stop-color="rgb(255, 192, 229)"/><stop offset="0.7500" stop-color="rgb(255, 180, 216)"/><stop offset="0.8333" stop-color="rgb(255, 168, 204)"/><stop offset="0.9167" stop-color="rgb(255, 156, 192)"/><stop offset="1.0000" stop-color="rgb(255, 145, 181)"/></linearGradient>
<linearGradient id="c48" x1="0" y1="0" x2="1" y2="0"><stop offset="0.0000" stop-color="rgb(162, 218, 255)"/><stop offset="0.0833" stop-color="rgb(177, 218, 255)"/><stop offset="0.1667" stop-color="rgb(193, 217, 255)"/><stop offset="0.2500" stop-color="rgb(208, 217, 255)"/><stop offset="0.3333" stop-color="rgb(223, 216, 255)"/><stop offset="0.4167" stop-color="rgb(238, 216, 255)"/><stop offset="0.5000" stop-color="rgb(253, 215, 255)"/><stop offset="0.5833" stop-color="rgb(255, 204, 243)"/><stop offset="0.6667" stop-color="rgb(255, 190, 229)"/><stop offset="0.7500" stop-color="rgb(255, 178, 217)"/><stop offset="0.8333" stop-color="rgb(255, 166, 204)"/><stop offset="0.9167" stop-color="rgb(255, 154, 193)"/><stop offset="1.0000" stop-color="rgb(255, 143, 181)"/></linearGradient>
<linearGradient id="c49" x1="0" y1="0" x2="1" y2="0"><stop offset="0.0000" stop-color="rgb(162, 216, 255)"/><stop offset="0.0833" stop-color="rgb(177, 216, 255)"/><stop offset="0.1667" stop-color="rgb(193, 215, 255)"/><stop offset="0.2500" stop-color="rgb(208, 215, 255)"/><stop offset="0.3333" stop-color="rgb(223, 214, 255)"/><stop offset="0.4167" stop-color="rgb(238, 214, 255)"/><stop offset="0.5000" stop-color="rgb(253, 213, 255)"/><stop offset="0.5833" stop-color="rgb(255, 202, 243)"/><stop offset="0.6667" stop-color="rgb(255, 189, 230)"/><stop offset="0.7500" stop-color="rgb(255, 176, 217)"/><stop offset="0.8333" stop-color="rgb(255, 164, 205)"/><stop offset="0.9167" stop-color="rgb(255, 153, 193)"/><stop offset="1.0000" stop-color="rgb(255, 142, 182)"/></linearGradient>
<linearGradient id="c50" x1="0" y1="0" x2="1" y2="0"><stop offset="0.0000" stop-color="rgb(162, 214, 255)"/><stop offset="0.0833" stop-color="rgb(178, 214, 255)"/><stop offset="0.1667" stop-color="rgb(193, 213, 255)"/><stop offset="0.2500" stop-color="rgb(208, 213, 255)"/><stop offset="0.3333" stop-color="rgb(223, 212, 255)"/><stop offset="0.4167" stop-color="rgb(238, 212, 255)"/><stop offset="0.5000" stop-color="rgb(252, 211, 255)"/><stop offset="0.5833" stop-color="rgb(255, 200, 243)"/><stop offset="0.6667" stop-color="rgb(255, 187, 230)"/><stop offset="0.7500" stop-color="rgb(255, 174, 217)"/><stop offset="0.8333" stop-color="rgb(255, 162, 205)"/><stop offset="0.9167" stop-color="rgb(255, 151, 193)"/><stop offset="1.0000" stop-color="rgb(255, 140, 182)"/></linearGradient>
<linearGradient id="c51" x1="0" y1="0" x2="1" y2="0"><stop offset="0.0000" stop-color="rgb(162, 213, 255)"/><stop offset="0.0833" stop-color="rgb(178, 212, 255)"/><stop offset="0.1667" stop-color="rgb(193, 212, 255)"/><stop offset="0.2500" stop-color="rgb(208, 211, 255)"/><stop offset="0.3333" stop-color="rgb(223, 210, 255)"/><stop offset="0.4167" stop-color="rgb(238, 210, 255)"/><stop offset="0.5000" stop-color="rgb(252, 209, 255)"/><stop offset="0.5833" stop-color="rgb(255, 198, 244)"/><stop offset="0.6667" stop-color="rgb(255, 185, 230)"/><stop offset="0.7500" stop-color="rgb(255, 172, 217)"/><stop offset="0.8333" stop-color="rgb(255, 161, 205)"/><stop offset="0.9167" stop-color="rgb(255, 149, 193)"/><stop offset="1.0000" stop-color="rgb(255, 138, 182)"/></linearGradient>
<linearGradient id="c52" x1="0" y1="0" x2="1" y2="0"><stop offset="0.0000" stop-color="rgb(162, 211, 255)"/><stop offset="0.0833" stop-color="rgb(178, 210, 255)"/><stop offset="0.1667" stop-color="rgb(193, 210, 255)"/><stop offset="0.2500" stop-color="rgb(208, 209, 255)"/><stop offset="0.3333" stop-color="rgb(223, 208, 255)"/><stop offset="0.4167" stop-color="rgb(238, 208, 255)"/><stop offset="0.5000" stop-color="rgb(252, 207, 255)"/><stop offset="0.5833" stop-color="rgb(255, 196, 244)"/><stop offset="0.6667" stop-color="rgb(255, 183, 230)"/><stop offset="0.7500" stop-color="rgb(255, 171, 217)"/><stop offset="0.8333" stop-color="rgb(255, 159, 205)"/><stop offset="0.9167" stop-color="rgb(255, 148, 194)"/><stop offset="1.0000" stop-color="rgb(255, 137, 183)"/></linearGradient>
<linearGradient id="c53" x1="0" y1="0" x2="1" y2="0"><stop offset="0.0000" stop-color="rgb(162, 209, 255)"/><stop offset="0.0833" stop-color="rgb(178, 208, 255)"/><stop offset="0.1667" stop-color="rgb(193, 208, 255)"/><stop offset="0.2500" stop-color="rgb(208, 207, 255)"/><stop offset="0.3333" stop-color="rgb(223, 206, 255)"/><stop offset="0.4167" stop-color="rgb(238, 206, 255)"/><stop offset="0.5000" stop-color="rgb(252, 205, 255)"/><stop offset="0.5833" stop-color="rgb(255, 194, 244)"/><stop offset="0.6667" stop-color="rgb(255, 181, 230)"/><stop offset="0.7500" stop-color="rgb(255, 169, 218)"/><stop offset="0.8333" stop-color="rgb(255, 157, 206)"/><stop offset="0.9167" stop-color="rgb(255, 146, 194)"/><stop offset="1.0000" stop-color="rgb(255, 135, 183)"/></linearGradient>
<linearGradient id="c54" x1="0" y1="0" x2="1" y2="0"><stop offset="0.0000" stop-color="rgb(162, 207, 255)"/><stop offset="0.0833" stop-color="rgb(178, 206, 255)"/><stop offset="0.1667" stop-color="rgb(193, 206, 255)"/><stop offset="0.2500" stop-color="rgb(208, 205, 255)"/><stop offset="0.3333" stop-color="rgb(223, 204, 255)"/><stop offset="0.4167" stop-color="rgb(237, 204, 255)"/><stop offset="0.5000" stop-color="rgb(252, 203, 255)"/><stop offset="0.5833" stop-color="rgb(255, 192, 244)"/><stop offset="0.6667" stop-color="rgb(255, 179, 231)"/><stop offset="0.7500" stop-color="rgb(255, 167, 218)"/><stop offset="0.8333" stop-color="rgb(255, 155, 206)"/><stop offset="0.9167" stop-color="rgb(255, 144, 194)"/><stop offset="1.0000" stop-color="rgb(255, 133, 183)"/></linearGradient>
<linearGradient id="c55" x1="0" y1="0" x2="1" y2="0"><stop offset="0.0000" stop-color="rgb(163, 205, 255)"/><stop offset="0.0833" stop-color="rgb(178, 204, 255)"/><stop offset="0.1667" stop-color="rgb(193, 204, 255)"/><stop offset="0.2500" stop-color="rgb(208, 203, 255)"/><stop offset="0.3333" stop-color="rgb(223, 202, 255)"/><stop offset="0.4167" stop-color="rgb(237, 202, 255)"/><stop offset="0.5000" stop-color="rgb(252, 201, 255)"/><stop offset="0.5833" stop-color="rgb(255, 191, 244)"/><stop offset="0.6667" stop-color="rgb(255, 178, 231)"/><stop offset="0.7500" stop-color="rgb(255, 165, 218)"/><stop offset="0.8333" stop-color="rgb(255, 154, 206)"/><stop offset="0.9167" stop-color="rgb(255, 142, 194)"/><stop offset="1.0000" stop-color="rgb(255, 132, 183)"/></linearGradient>
<linearGradient id="c56" x1="0" y1="0" x2="1" y2="0"><stop offset="0.0000" stop-color="rgb(163, 203, 255)"/><stop offset="0.0833" stop-color="rgb(178, 202, 255)"/><stop offset="0.1667" stop-color="rgb(193, 202, 255)"/><stop offset="0.2500" stop-color="rgb(208, 201, 255)"/><stop offset="0.3333" stop-color="rgb(223, 200, 255)"/><stop offset="0.4167" stop-color="rgb(237, 200, 255)"/><stop offset="0.5000" stop-color="rgb(252, 199, 255)"/><stop offset="0.5833" stop-color="rgb(255, 189, 244)"/><stop offset="0.6667" stop-color="rgb(255, 176, 231)"/><stop offset="0.7500" stop-color="rgb(255, 164, 218)"/><stop offset="0.8333" stop-color="rgb(255, 152, 206)"/><stop offset="0.9167" stop-color="rgb(255, 141, 195)"/><stop offset="1.0000" stop-color="rgb(255, 130, 184)"/></linearGradient>
<linearGradient id="c57" x1="0" y1="0" x2="1" y2="0"><stop offset="0.0000" stop-color="rgb(163, 201, 255)"/><stop offset="0.0833" stop-color="rgb(178, 201, 255)"/><stop offset="0.1667" stop-color="rgb(193, 200, 255)"/><stop offset="0.2500" stop-color="rgb(208, 199, 255)"/><stop offset="0.3333" stop-color="rgb(223, 199, 255)"/><stop offset="0.4167" stop-color="rgb(237, 198, 255)"/><stop offset="0.5000" stop-color="rgb(251, 197, 255)"/><stop offset="0.5833" stop-color="rgb(255, 187, 245)"/><stop offset="0.6667" stop-color="rgb(255, 174, 231)"/><stop offset="0.7500" stop-color="rgb(255, 162, 219)"/><stop offset="0.8333" stop-color="rgb(255, 150, 207)"/><stop offset="0.9167" stop-color="rgb(255, 139, 195)"/><stop offset="1.0000" stop-color="rgb(255, 128, 184)"/></linearGradient>
<clipPath id="cc"><rect x="276.5" y="424.6" width="173.39999999999998" height="113.39999999999998"/></clipPath>
<linearGradient id="th" x1="0" y1="0" x2="0" y2="1"><stop offset="0" stop-color="#2c2c2c"/><stop offset="0.5" stop-color="#292929"/><stop offset="0.5" stop-color="#141414"/><stop offset="1" stop-color="#1c1c1c"/></linearGradient>
<clipPath id="tc"><rect x="457.5" y="404" width="711.8" height="157"/></clipPath>
</defs>
<g>
<rect x="0" y="0" width="1200" height="563" fill="#333333"/>
<rect x="180.8" y="52.2" width="101.2" height="17" fill="url(#dd)"/>
<path d="M273 60 L278.8 60 L275.9 63.2 Z" fill="#000"/>
<rect x="71.3" y="92.0" width="197.2" height="158.4" fill="#242424"/>
<line x1="97.60" y1="92.0" x2="97.60" y2="250.4" stroke="#8a8a8a" stroke-width="1.1"/>
<line x1="123.90" y1="92.0" x2="123.90" y2="250.4" stroke="#8a8a8a" stroke-width="1.1"/>
<line x1="150.20" y1="92.0" x2="150.20" y2="250.4" stroke="#8a8a8a" stroke-width="1.1"/>
<line x1="176.50" y1="92.0" x2="176.50" y2="250.4" stroke="#8a8a8a" stroke-width="1.1"/>
<line x1="202.80" y1="92.0" x2="202.80" y2="250.4" stroke="#8a8a8a" stroke-width="1.1"/>
<line x1="229.10" y1="92.0" x2="229.10" y2="250.4" stroke="#8a8a8a" stroke-width="1.1"/>
<line x1="255.40" y1="92.0" x2="255.40" y2="250.4" stroke="#8a8a8a" stroke-width="1.1"/>
<rect x="71.3" y="243.43" width="3.31" height="4.6" fill="url(#b0)" stroke="#000" stroke-width="1.1"/>
<rect x="71.3" y="243.93" width="2.81" height="3.6" fill="url(#cyl)"/>
<rect x="71.3" y="235.89" width="8.52" height="4.6" fill="url(#b1)" stroke="#000" stroke-width="1.1"/>
<rect x="71.3" y="236.39" width="8.02" height="3.6" fill="url(#cyl)"/>
<rect x="71.3" y="228.34" width="20.14" height="4.6" fill="url(#b2)" stroke="#000" stroke-width="1.1"/>
<rect x="71.3" y="228.84" width="19.64" height="3.6" fill="url(#cyl)"/>
<rect x="71.3" y="220.80" width="24.75" height="4.6" fill="url(#b3)" stroke="#000" stroke-width="1.1"/>
<rect x="71.3" y="221.30" width="24.25" height="3.6" fill="url(#cyl)"/>
<rect x="71.3" y="213.26" width="31.05" height="4.6" fill="url(#b4)" stroke="#000" stroke-width="1.1"/>
<rect x="71.3" y="213.76" width="30.55" height="3.6" fill="url(#cyl)"/>
<rect x="71.3" y="205.71" width="34.00" height="4.6" fill="url(#b5)" stroke="#000" stroke-width="1.1"/>
<rect x="71.3" y="206.21" width="33.50" height="3.6" fill="url(#cyl)"/>
<rect x="71.3" y="198.17" width="37.14" height="4.6" fill="url(#b6)" stroke="#000" stroke-width="1.1"/>
<rect x="71.3" y="198.67" width="36.64" height="3.6" fill="url(#cyl)"/>
<rect x="71.3" y="190.63" width="39.06" height="4.6" fill="url(#b7)" stroke="#000" stroke-width="1.1"/>
<rect x="71.3" y="191.13" width="38.56" height="3.6" fill="url(#cyl)"/>
<rect x="71.3" y="183.09" width="41.28" height="4.6" fill="url(#b8)" stroke="#000" stroke-width="1.1"/>
<rect x="71.3" y="183.59" width="40.78" height="3.6" fill="url(#cyl)"/>
<rect x="71.3" y="175.54" width="38.26" height="4.6" fill="url(#b9)" stroke="#000" stroke-width="1.1"/>
<rect x="71.3" y="176.04" width="37.76" height="3.6" fill="url(#cyl)"/>
<rect x="71.3" y="168.00" width="38.30" height="4.6" fill="url(#b10)" stroke="#000" stroke-width="1.1"/>
<rect x="71.3" y="168.50" width="37.80" height="3.6" fill="url(#cyl)"/>
<rect x="71.3" y="160.46" width="33.87" height="4.6" fill="url(#b11)" stroke="#000" stroke-width="1.1"/>
<rect x="71.3" y="160.96" width="33.37" height="3.6" fill="url(#cyl)"/>
<rect x="71.3" y="152.91" width="34.41" height="4.6" fill="url(#b12)" stroke="#000" stroke-width="1.1"/>
<rect x="71.3" y="153.41" width="33.91" height="3.6" fill="url(#cyl)"/>
<rect x="71.3" y="145.37" width="38.23" height="4.6" fill="url(#b13)" stroke="#000" stroke-width="1.1"/>
<rect x="71.3" y="145.87" width="37.73" height="3.6" fill="url(#cyl)"/>
<rect x="71.3" y="137.83" width="32.74" height="4.6" fill="url(#b14)" stroke="#000" stroke-width="1.1"/>
<rect x="71.3" y="138.33" width="32.24" height="3.6" fill="url(#cyl)"/>
<rect x="71.3" y="130.29" width="28.14" height="4.6" fill="url(#b15)" stroke="#000" stroke-width="1.1"/>
<rect x="71.3" y="130.79" width="27.64" height="3.6" fill="url(#cyl)"/>
<rect x="71.3" y="122.74" width="30.24" height="4.6" fill="url(#b16)" stroke="#000" stroke-width="1.1"/>
<rect x="71.3" y="123.24" width="29.74" height="3.6" fill="url(#cyl)"/>
<rect x="71.3" y="115.20" width="23.14" height="4.6" fill="url(#b17)" stroke="#000" stroke-width="1.1"/>
<rect x="71.3" y="115.70" width="22.64" height="3.6" fill="url(#cyl)"/>
<rect x="71.3" y="107.66" width="21.30" height="4.6" fill="url(#b18)" stroke="#000" stroke-width="1.1"/>
<rect x="71.3" y="108.16" width="20.80" height="3.6" fill="url(#cyl)"/>
<rect x="71.3" y="100.11" width="20.51" height="4.6" fill="url(#b19)" stroke="#000" stroke-width="1.1"/>
<rect x="71.3" y="100.61" width="20.01" height="3.6" fill="url(#cyl)"/>
<rect x="71.3" y="92.57" width="31.03" height="4.6" fill="url(#b20)" stroke="#000" stroke-width="1.1"/>
<rect x="71.3" y="93.07" width="30.53" height="3.6" fill="url(#cyl)"/>
<rect x="71.3" y="92.0" width="197.2" height="158.4" fill="none" stroke="#a2a2a2" stroke-width="1.2"/>
<line x1="67.6" y1="92.00" x2="70.7" y2="92.00" stroke="#8a8a8a" stroke-width="1"/>
<line x1="66.8" y1="99.54" x2="70.7" y2="99.54" stroke="#d8d8d8" stroke-width="1"/>
<line x1="67.6" y1="107.09" x2="70.7" y2="107.09" stroke="#8a8a8a" stroke-width="1"/>
<line x1="66.8" y1="114.63" x2="70.7" y2="114.63" stroke="#d8d8d8" stroke-width="1"/>
<line x1="67.6" y1="122.17" x2="70.7" y2="122.17" stroke="#8a8a8a" stroke-width="1"/>
<line x1="66.8" y1="129.71" x2="70.7" y2="129.71" stroke="#d8d8d8" stroke-width="1"/>
<line x1="67.6" y1="137.26" x2="70.7" y2="137.26" stroke="#8a8a8a" stroke-width="1"/>
<line x1="66.8" y1="144.80" x2="70.7" y2="144.80" stroke="#d8d8d8" stroke-width="1"/>
<line x1="67.6" y1="152.34" x2="70.7" y2="152.34" stroke="#8a8a8a" stroke-width="1"/>
<line x1="66.8" y1="159.89" x2="70.7" y2="159.89" stroke="#d8d8d8" stroke-width="1"/>
<line x1="67.6" y1="167.43" x2="70.7" y2="167.43" stroke="#8a8a8a" stroke-width="1"/>
<line x1="66.8" y1="174.97" x2="70.7" y2="174.97" stroke="#d8d8d8" stroke-width="1"/>
<line x1="67.6" y1="182.51" x2="70.7" y2="182.51" stroke="#8a8a8a" stroke-width="1"/>
<line x1="66.8" y1="190.06" x2="70.7" y2="190.06" stroke="#d8d8d8" stroke-width="1"/>
<line x1="67.6" y1="197.60" x2="70.7" y2="197.60" stroke="#8a8a8a" stroke-width="1"/>
<line x1="66.8" y1="205.14" x2="70.7" y2="205.14" stroke="#d8d8d8" stroke-width="1"/>
<line x1="67.6" y1="212.69" x2="70.7" y2="212.69" stroke="#8a8a8a" stroke-width="1"/>
<line x1="66.8" y1="220.23" x2="70.7" y2="220.23" stroke="#d8d8d8" stroke-width="1"/>
<line x1="67.6" y1="227.77" x2="70.7" y2="227.77" stroke="#8a8a8a" stroke-width="1"/>
<line x1="66.8" y1="235.31" x2="70.7" y2="235.31" stroke="#d8d8d8" stroke-width="1"/>
<line x1="67.6" y1="242.86" x2="70.7" y2="242.86" stroke="#8a8a8a" stroke-width="1"/>
<line x1="66.8" y1="250.40" x2="70.7" y2="250.40" stroke="#d8d8d8" stroke-width="1"/>
<line x1="71.30" y1="250.4" x2="71.30" y2="254.9" stroke="#a2a2a2" stroke-width="1.1"/>
<line x1="97.60" y1="250.4" x2="97.60" y2="254.9" stroke="#a2a2a2" stroke-width="1.1"/>
<line x1="123.90" y1="250.4" x2="123.90" y2="254.9" stroke="#a2a2a2" stroke-width="1.1"/>
<line x1="150.20" y1="250.4" x2="150.20" y2="254.9" stroke="#a2a2a2" stroke-width="1.1"/>
<line x1="176.50" y1="250.4" x2="176.50" y2="254.9" stroke="#a2a2a2" stroke-width="1.1"/>
<line x1="202.80" y1="250.4" x2="202.80" y2="254.9" stroke="#a2a2a2" stroke-width="1.1"/>
<line x1="229.10" y1="250.4" x2="229.10" y2="254.9" stroke="#a2a2a2" stroke-width="1.1"/>
<line x1="255.40" y1="250.4" x2="255.40" y2="254.9" stroke="#a2a2a2" stroke-width="1.1"/>
<rect x="315.5" y="31.3" width="395.0" height="219.1" fill="#242424"/>
<line x1="315.5" y1="223.90" x2="710.5" y2="223.90" stroke="#8a8a8a" stroke-width="1.1"/>
<line x1="315.5" y1="196.40" x2="710.5" y2="196.40" stroke="#8a8a8a" stroke-width="1.1"/>
<line x1="315.5" y1="168.90" x2="710.5" y2="168.90" stroke="#8a8a8a" stroke-width="1.1"/>
<line x1="315.5" y1="141.40" x2="710.5" y2="141.40" stroke="#8a8a8a" stroke-width="1.1"/>
<line x1="315.5" y1="113.90" x2="710.5" y2="113.90" stroke="#8a8a8a" stroke-width="1.1"/>
<line x1="315.5" y1="86.40" x2="710.5" y2="86.40" stroke="#8a8a8a" stroke-width="1.1"/>
<line x1="315.5" y1="58.90" x2="710.5" y2="58.90" stroke="#8a8a8a" stroke-width="1.1"/>
<rect x="315.5" y="31.3" width="395.0" height="219.1" fill="none" stroke="#a2a2a2" stroke-width="1.2"/>
<line x1="311.3" y1="250.40" x2="315.5" y2="250.40" stroke="#a2a2a2" stroke-width="1.1"/>
<line x1="311.3" y1="223.90" x2="315.5" y2="223.90" stroke="#a2a2a2" stroke-width="1.1"/>
<line x1="311.3" y1="196.40" x2="315.5" y2="196.40" stroke="#a2a2a2" stroke-width="1.1"/>
<line x1="311.3" y1="168.90" x2="315.5" y2="168.90" stroke="#a2a2a2" stroke-width="1.1"/>
<line x1="311.3" y1="141.40" x2="315.5" y2="141.40" stroke="#a2a2a2" stroke-width="1.1"/>
<line x1="311.3" y1="113.90" x2="315.5" y2="113.90" stroke="#a2a2a2" stroke-width="1.1"/>
<line x1="311.3" y1="86.40" x2="315.5" y2="86.40" stroke="#a2a2a2" stroke-width="1.1"/>
<line x1="311.3" y1="58.90" x2="315.5" y2="58.90" stroke="#a2a2a2" stroke-width="1.1"/>
<line x1="311.3" y1="31.30" x2="315.5" y2="31.30" stroke="#a2a2a2" stroke-width="1.1"/>
<line x1="315.50" y1="250.4" x2="315.50" y2="255.0" stroke="#a2a2a2" stroke-width="1.1"/>
<line x1="355.00" y1="250.4" x2="355.00" y2="255.0" stroke="#a2a2a2" stroke-width="1.1"/>
<line x1="394.50" y1="250.4" x2="394.50" y2="255.0" stroke="#a2a2a2" stroke-width="1.1"/>
<line x1="434.00" y1="250.4" x2="434.00" y2="255.0" stroke="#a2a2a2" stroke-width="1.1"/>
<line x1="473.50" y1="250.4" x2="473.50" y2="255.0" stroke="#a2a2a2" stroke-width="1.1"/>
<line x1="513.00" y1="250.4" x2="513.00" y2="255.0" stroke="#a2a2a2" stroke-width="1.1"/>
<line x1="552.50" y1="250.4" x2="552.50" y2="255.0" stroke="#a2a2a2" stroke-width="1.1"/>
<line x1="592.00" y1="250.4" x2="592.00" y2="255.0" stroke="#a2a2a2" stroke-width="1.1"/>
<line x1="631.50" y1="250.4" x2="631.50" y2="255.0" stroke="#a2a2a2" stroke-width="1.1"/>
<line x1="671.00" y1="250.4" x2="671.00" y2="255.0" stroke="#a2a2a2" stroke-width="1.1"/>
<line x1="710.50" y1="250.4" x2="710.50" y2="255.0" stroke="#a2a2a2" stroke-width="1.1"/>
<polyline points="315.5,138.9 335.2,132.1 355.0,119.7 374.8,119.1 394.5,116.4 414.2,114.2 434.0,113.2 453.8,115.6 473.5,115.6 493.2,118.0 513.0,116.4 532.8,115.8 552.5,113.2 572.2,109.5 592.0,109.8 611.8,113.2 631.5,113.6 651.2,116.4 671.0,119.1 690.8,118.0 710.5,151.0" fill="none" stroke="#e41616" stroke-width="2.5" stroke-linejoin="round" clip-path="url(#rc)"/>
<polyline points="315.5,141.4 335.2,133.2 355.0,120.1 374.8,118.0 394.5,114.2 414.2,113.9 434.0,112.8 453.8,117.5 473.5,116.9 493.2,119.1 513.0,118.9 532.8,118.3 552.5,118.9 572.2,118.0 592.0,114.2 611.8,116.7 631.5,119.7 651.2,117.5 671.0,117.5 690.8,118.3 710.5,137.3" fill="none" stroke="#108210" stroke-width="2.5" stroke-linejoin="round" clip-path="url(#rc)"/>
<polyline points="315.5,141.1 335.2,134.8 355.0,120.1 374.8,115.6 394.5,111.4 414.2,110.3 434.0,111.8 453.8,109.8 473.5,109.8 493.2,112.8 513.0,113.2 532.8,115.3 552.5,115.8 572.2,115.3 592.0,114.2 611.8,115.6 631.5,115.6 651.2,117.5 671.0,119.7 690.8,117.5 710.5,137.3" fill="none" stroke="#1414e2" stroke-width="2.5" stroke-linejoin="round" clip-path="url(#rc)"/>
<rect x="746.7" y="32.0" width="95.5" height="222.8" fill="#242424"/>
<line x1="746.7" y1="226.95" x2="842.2" y2="226.95" stroke="#8a8a8a" stroke-width="1.1"/>
<line x1="746.7" y1="199.10" x2="842.2" y2="199.10" stroke="#8a8a8a" stroke-width="1.1"/>
<line x1="746.7" y1="171.25" x2="842.2" y2="171.25" stroke="#8a8a8a" stroke-width="1.1"/>
<line x1="746.7" y1="143.40" x2="842.2" y2="143.40" stroke="#8a8a8a" stroke-width="1.1"/>
<line x1="746.7" y1="115.55" x2="842.2" y2="115.55" stroke="#8a8a8a" stroke-width="1.1"/>
<line x1="746.7" y1="87.70" x2="842.2" y2="87.70" stroke="#8a8a8a" stroke-width="1.1"/>
<line x1="746.7" y1="59.85" x2="842.2" y2="59.85" stroke="#8a8a8a" stroke-width="1.1"/>
<rect x="746.7" y="32.0" width="95.5" height="222.8" fill="none" stroke="#a2a2a2" stroke-width="1.2"/>
<line x1="742.5" y1="254.80" x2="746.7" y2="254.80" stroke="#a2a2a2" stroke-width="1.1"/>
<line x1="742.5" y1="226.95" x2="746.7" y2="226.95" stroke="#a2a2a2" stroke-width="1.1"/>
<line x1="742.5" y1="199.10" x2="746.7" y2="199.10" stroke="#a2a2a2" stroke-width="1.1"/>
<line x1="742.5" y1="171.25" x2="746.7" y2="171.25" stroke="#a2a2a2" stroke-width="1.1"/>
<line x1="742.5" y1="143.40" x2="746.7" y2="143.40" stroke="#a2a2a2" stroke-width="1.1"/>
<line x1="742.5" y1="115.55" x2="746.7" y2="115.55" stroke="#a2a2a2" stroke-width="1.1"/>
<line x1="742.5" y1="87.70" x2="746.7" y2="87.70" stroke="#a2a2a2" stroke-width="1.1"/>
<line x1="742.5" y1="59.85" x2="746.7" y2="59.85" stroke="#a2a2a2" stroke-width="1.1"/>
<line x1="742.5" y1="32.00" x2="746.7" y2="32.00" stroke="#a2a2a2" stroke-width="1.1"/>
<line x1="746.7" y1="254.8" x2="746.7" y2="259.40000000000003" stroke="#a2a2a2" stroke-width="1.1"/>
<line x1="842.2" y1="254.8" x2="842.2" y2="259.40000000000003" stroke="#a2a2a2" stroke-width="1.1"/>
<rect x="755.5" y="134.6" width="24.9" height="8.8" fill="url(#rg)" stroke="#000" stroke-width="1"/>
<rect x="780.4" y="142.6" width="25.9" height="1.6" fill="#000"/>
<rect x="806.3" y="143.4" width="24.6" height="13.1" fill="url(#bg)" stroke="#000" stroke-width="1"/>
<rect x="882.5" y="31.4" width="273.79999999999995" height="219.2" fill="#242424"/>
<line x1="882.5" y1="206.76" x2="1156.3" y2="206.76" stroke="#8a8a8a" stroke-width="1.1"/>
<line x1="882.5" y1="162.92" x2="1156.3" y2="162.92" stroke="#8a8a8a" stroke-width="1.1"/>
<line x1="882.5" y1="119.08" x2="1156.3" y2="119.08" stroke="#8a8a8a" stroke-width="1.1"/>
<line x1="882.5" y1="75.24" x2="1156.3" y2="75.24" stroke="#8a8a8a" stroke-width="1.1"/>
<polyline points="882.5,496.4 896.2,245.4 909.8,216.8 923.5,206.3 937.2,206.5 950.8,204.0 964.5,205.1 978.2,199.4 991.8,200.5 1005.5,199.1 1019.1,202.1 1032.8,204.7 1046.5,209.4 1060.1,217.4 1073.8,232.4 1087.5,237.4 1101.1,244.9 1114.8,268.1 1128.5,316.4 1142.1,436.9 1155.8,162.9" fill="none" stroke="#8c8c8c" stroke-width="2" stroke-linejoin="round" clip-path="url(#gc)"/>
<polyline points="890.7,261.6 892.0,250.6 895.0,232.4 898.7,215.1 904.2,196.3 908.7,188.9 914.9,181.4 922.4,175.9 929.8,172.7 937.4,170.5 949.7,168.2 964.8,166.5 979.8,165.6 992.4,165.0 1034.7,164.2 1073.8,163.6 1114.8,163.1 1155.8,162.9" fill="none" stroke="#f4f420" stroke-width="2.2" stroke-linejoin="round" clip-path="url(#gc)"/>
<rect x="882.5" y="31.4" width="273.79999999999995" height="219.2" fill="none" stroke="#a2a2a2" stroke-width="1.2"/>
<line x1="878.3" y1="250.60" x2="882.5" y2="250.60" stroke="#a2a2a2" stroke-width="1.1"/>
<line x1="878.3" y1="206.76" x2="882.5" y2="206.76" stroke="#a2a2a2" stroke-width="1.1"/>
<line x1="878.3" y1="162.92" x2="882.5" y2="162.92" stroke="#a2a2a2" stroke-width="1.1"/>
<line x1="878.3" y1="119.08" x2="882.5" y2="119.08" stroke="#a2a2a2" stroke-width="1.1"/>
<line x1="878.3" y1="75.24" x2="882.5" y2="75.24" stroke="#a2a2a2" stroke-width="1.1"/>
<line x1="878.3" y1="31.40" x2="882.5" y2="31.40" stroke="#a2a2a2" stroke-width="1.1"/>
<line x1="882.50" y1="250.6" x2="882.50" y2="255.2" stroke="#a2a2a2" stroke-width="1.1"/>
<line x1="937.16" y1="250.6" x2="937.16" y2="255.2" stroke="#a2a2a2" stroke-width="1.1"/>
<line x1="991.82" y1="250.6" x2="991.82" y2="255.2" stroke="#a2a2a2" stroke-width="1.1"/>
<line x1="1046.48" y1="250.6" x2="1046.48" y2="255.2" stroke="#a2a2a2" stroke-width="1.1"/>
<line x1="1101.14" y1="250.6" x2="1101.14" y2="255.2" stroke="#a2a2a2" stroke-width="1.1"/>
<line x1="1155.80" y1="250.6" x2="1155.80" y2="255.2" stroke="#a2a2a2" stroke-width="1.1"/>
<rect x="25.2" y="307.9" width="1149.4" height="89.6" fill="#000"/>
<rect x="103.10" y="311.5" width="43.8" height="37" fill="rgb(12, 11, 11)"/>
<rect x="103.10" y="347.2" width="43.8" height="35.1" fill="rgb(11,11,11)"/>
<rect x="103.70" y="312.1" width="42.6" height="69.6" fill="none" stroke="#ffffff" stroke-opacity="0.76" stroke-width="1.2"/>
<rect x="153.81" y="311.5" width="43.8" height="37" fill="rgb(18, 17, 17)"/>
<rect x="153.81" y="347.2" width="43.8" height="35.1" fill="rgb(15,15,15)"/>
<rect x="154.41" y="312.1" width="42.6" height="69.6" fill="none" stroke="#ffffff" stroke-opacity="0.76" stroke-width="1.2"/>
<rect x="204.52" y="311.5" width="43.8" height="37" fill="rgb(29, 29, 29)"/>
<rect x="204.52" y="347.2" width="43.8" height="35.1" fill="rgb(25,25,25)"/>
<rect x="205.12" y="312.1" width="42.6" height="69.6" fill="none" stroke="#ffffff" stroke-opacity="0.76" stroke-width="1.2"/>
<rect x="255.23" y="311.5" width="43.8" height="37" fill="rgb(41, 41, 42)"/>
<rect x="255.23" y="347.2" width="43.8" height="35.1" fill="rgb(37,37,37)"/>
<rect x="255.83" y="312.1" width="42.6" height="69.6" fill="none" stroke="#ffffff" stroke-opacity="0.76" stroke-width="1.2"/>
<rect x="305.94" y="311.5" width="43.8" height="37" fill="rgb(56, 56, 57)"/>
<rect x="305.94" y="347.2" width="43.8" height="35.1" fill="rgb(49,49,49)"/>
<rect x="306.54" y="312.1" width="42.6" height="69.6" fill="none" stroke="#ffffff" stroke-opacity="0.76" stroke-width="1.2"/>
<rect x="356.65" y="311.5" width="43.8" height="37" fill="rgb(70, 70, 71)"/>
<rect x="356.65" y="347.2" width="43.8" height="35.1" fill="rgb(63,63,63)"/>
<rect x="357.25" y="312.1" width="42.6" height="69.6" fill="none" stroke="#ffffff" stroke-opacity="0.76" stroke-width="1.2"/>
<rect x="407.36" y="311.5" width="43.8" height="37" fill="rgb(84, 84, 84)"/>
<rect x="407.36" y="347.2" width="43.8" height="35.1" fill="rgb(76,76,76)"/>
<rect x="407.96" y="312.1" width="42.6" height="69.6" fill="none" stroke="#ffffff" stroke-opacity="0.76" stroke-width="1.2"/>
<rect x="458.07" y="311.5" width="43.8" height="37" fill="rgb(97, 96, 99)"/>
<rect x="458.07" y="347.2" width="43.8" height="35.1" fill="rgb(90,90,90)"/>
<rect x="458.67" y="312.1" width="42.6" height="69.6" fill="none" stroke="#ffffff" stroke-opacity="0.76" stroke-width="1.2"/>
<rect x="508.78" y="311.5" width="43.8" height="37" fill="rgb(110, 110, 112)"/>
<rect x="508.78" y="347.2" width="43.8" height="35.1" fill="rgb(103,103,103)"/>
<rect x="509.38" y="312.1" width="42.6" height="69.6" fill="none" stroke="#ffffff" stroke-opacity="0.76" stroke-width="1.2"/>
<rect x="559.49" y="311.5" width="43.8" height="37" fill="rgb(123, 123, 124)"/>
<rect x="559.49" y="347.2" width="43.8" height="35.1" fill="rgb(116,116,116)"/>
<rect x="560.09" y="312.1" width="42.6" height="69.6" fill="none" stroke="#ffffff" stroke-opacity="0.76" stroke-width="1.2"/>
<rect x="610.20" y="311.5" width="43.8" height="37" fill="rgb(136, 136, 138)"/>
<rect x="610.20" y="347.2" width="43.8" height="35.1" fill="rgb(129,129,129)"/>
<rect x="610.80" y="312.1" width="42.6" height="69.6" fill="none" stroke="#ffffff" stroke-opacity="0.76" stroke-width="1.2"/>
<rect x="660.91" y="311.5" width="43.8" height="37" fill="rgb(148, 148, 149)"/>
<rect x="660.91" y="347.2" width="43.8" height="35.1" fill="rgb(141,141,141)"/>
<rect x="661.51" y="312.1" width="42.6" height="69.6" fill="none" stroke="#ffffff" stroke-opacity="0.76" stroke-width="1.2"/>
<rect x="711.62" y="311.5" width="43.8" height="37" fill="rgb(162, 161, 162)"/>
<rect x="711.62" y="347.2" width="43.8" height="35.1" fill="rgb(154,154,154)"/>
<rect x="712.22" y="312.1" width="42.6" height="69.6" fill="none" stroke="#ffffff" stroke-opacity="0.76" stroke-width="1.2"/>
<rect x="762.33" y="311.5" width="43.8" height="37" fill="rgb(176, 174, 175)"/>
<rect x="762.33" y="347.2" width="43.8" height="35.1" fill="rgb(166,166,166)"/>
<rect x="762.93" y="312.1" width="42.6" height="69.6" fill="none" stroke="#ffffff" stroke-opacity="0.76" stroke-width="1.2"/>
<rect x="813.04" y="311.5" width="43.8" height="37" fill="rgb(189, 189, 189)"/>
<rect x="813.04" y="347.2" width="43.8" height="35.1" fill="rgb(179,179,179)"/>
<rect x="813.64" y="312.1" width="42.6" height="69.6" fill="none" stroke="#ffffff" stroke-opacity="0.76" stroke-width="1.2"/>
<rect x="863.75" y="311.5" width="43.8" height="37" fill="rgb(201, 201, 201)"/>
<rect x="863.75" y="347.2" width="43.8" height="35.1" fill="rgb(192,192,192)"/>
<rect x="864.35" y="312.1" width="42.6" height="69.6" fill="none" stroke="#ffffff" stroke-opacity="0.76" stroke-width="1.2"/>
<rect x="914.46" y="311.5" width="43.8" height="37" fill="rgb(213, 213, 213)"/>
<rect x="914.46" y="347.2" width="43.8" height="35.1" fill="rgb(205,205,205)"/>
<rect x="915.06" y="312.1" width="42.6" height="69.6" fill="none" stroke="#ffffff" stroke-opacity="0.76" stroke-width="1.2"/>
<rect x="965.17" y="311.5" width="43.8" height="37" fill="rgb(225, 225, 225)"/>
<rect x="965.17" y="347.2" width="43.8" height="35.1" fill="rgb(217,217,217)"/>
<rect x="965.77" y="312.1" width="42.6" height="69.6" fill="none" stroke="#ffffff" stroke-opacity="0.76" stroke-width="1.2"/>
<rect x="1015.88" y="311.5" width="43.8" height="37" fill="rgb(238, 238, 238)"/>
<rect x="1015.88" y="347.2" width="43.8" height="35.1" fill="rgb(229,229,229)"/>
<rect x="1016.48" y="312.1" width="42.6" height="69.6" fill="none" stroke="#ffffff" stroke-opacity="0.76" stroke-width="1.2"/>
<rect x="1066.59" y="311.5" width="43.8" height="37" fill="rgb(249, 250, 249)"/>
<rect x="1066.59" y="347.2" width="43.8" height="35.1" fill="rgb(242,242,242)"/>
<rect x="1067.19" y="312.1" width="42.6" height="69.6" fill="none" stroke="#ffffff" stroke-opacity="0.76" stroke-width="1.2"/>
<rect x="1117.30" y="311.5" width="43.8" height="37" fill="rgb(251, 255, 255)"/>
<rect x="1117.30" y="347.2" width="43.8" height="35.1" fill="rgb(255,255,255)"/>
<rect x="1117.90" y="312.1" width="42.6" height="69.6" fill="none" stroke="#ffffff" stroke-opacity="0.76" stroke-width="1.2"/>
<g clip-path="url(#cc)" shape-rendering="crispEdges">
<rect x="276.5" y="424" width="173.39999999999998" height="2" fill="url(#c0)"/>
<rect x="276.5" y="426" width="173.39999999999998" height="2" fill="url(#c1)"/>
<rect x="276.5" y="428" width="173.39999999999998" height="2" fill="url(#c2)"/>
<rect x="276.5" y="430" width="173.39999999999998" height="2" fill="url(#c3)"/>
<rect x="276.5" y="432" width="173.39999999999998" height="2" fill="url(#c4)"/>
<rect x="276.5" y="434" width="173.39999999999998" height="2" fill="url(#c5)"/>
<rect x="276.5" y="436" width="173.39999999999998" height="2" fill="url(#c6)"/>
<rect x="276.5" y="438" width="173.39999999999998" height="2" fill="url(#c7)"/>
<rect x="276.5" y="440" width="173.39999999999998" height="2" fill="url(#c8)"/>
<rect x="276.5" y="442" width="173.39999999999998" height="2" fill="url(#c9)"/>
<rect x="276.5" y="444" width="173.39999999999998" height="2" fill="url(#c10)"/>
<rect x="276.5" y="446" width="173.39999999999998" height="2" fill="url(#c11)"/>
<rect x="276.5" y="448" width="173.39999999999998" height="2" fill="url(#c12)"/>
<rect x="276.5" y="450" width="173.39999999999998" height="2" fill="url(#c13)"/>
<rect x="276.5" y="452" width="173.39999999999998" height="2" fill="url(#c14)"/>
<rect x="276.5" y="454" width="173.39999999999998" height="2" fill="url(#c15)"/>
<rect x="276.5" y="456" width="173.39999999999998" height="2" fill="url(#c16)"/>
<rect x="276.5" y="458" width="173.39999999999998" height="2" fill="url(#c17)"/>
<rect x="276.5" y="460" width="173.39999999999998" height="2" fill="url(#c18)"/>
<rect x="276.5" y="462" width="173.39999999999998" height="2" fill="url(#c19)"/>
<rect x="276.5" y="464" width="173.39999999999998" height="2" fill="url(#c20)"/>
<rect x="276.5" y="466" width="173.39999999999998" height="2" fill="url(#c21)"/>
<rect x="276.5" y="468" width="173.39999999999998" height="2" fill="url(#c22)"/>
<rect x="276.5" y="470" width="173.39999999999998" height="2" fill="url(#c23)"/>
<rect x="276.5" y="472" width="173.39999999999998" height="2" fill="url(#c24)"/>
<rect x="276.5" y="474" width="173.39999999999998" height="2" fill="url(#c25)"/>
<rect x="276.5" y="476" width="173.39999999999998" height="2" fill="url(#c26)"/>
<rect x="276.5" y="478" width="173.39999999999998" height="2" fill="url(#c27)"/>
<rect x="276.5" y="480" width="173.39999999999998" height="2" fill="url(#c28)"/>
<rect x="276.5" y="482" width="173.39999999999998" height="2" fill="url(#c29)"/>
<rect x="276.5" y="484" width="173.39999999999998" height="2" fill="url(#c30)"/>
<rect x="276.5" y="486" width="173.39999999999998" height="2" fill="url(#c31)"/>
<rect x="276.5" y="488" width="173.39999999999998" height="2" fill="url(#c32)"/>
<rect x="276.5" y="490" width="173.39999999999998" height="2" fill="url(#c33)"/>
<rect x="276.5" y="492" width="173.39999999999998" height="2" fill="url(#c34)"/>
<rect x="276.5" y="494" width="173.39999999999998" height="2" fill="url(#c35)"/>
<rect x="276.5" y="496" width="173.39999999999998" height="2" fill="url(#c36)"/>
<rect x="276.5" y="498" width="173.39999999999998" height="2" fill="url(#c37)"/>
<rect x="276.5" y="500" width="173.39999999999998" height="2" fill="url(#c38)"/>
<rect x="276.5" y="502" width="173.39999999999998" height="2" fill="url(#c39)"/>
<rect x="276.5" y="504" width="173.39999999999998" height="2" fill="url(#c40)"/>
<rect x="276.5" y="506" width="173.39999999999998" height="2" fill="url(#c41)"/>
<rect x="276.5" y="508" width="173.39999999999998" height="2" fill="url(#c42)"/>
<rect x="276.5" y="510" width="173.39999999999998" height="2" fill="url(#c43)"/>
<rect x="276.5" y="512" width="173.39999999999998" height="2" fill="url(#c44)"/>
<rect x="276.5" y="514" width="173.39999999999998" height="2" fill="url(#c45)"/>
<rect x="276.5" y="516" width="173.39999999999998" height="2" fill="url(#c46)"/>
<rect x="276.5" y="518" width="173.39999999999998" height="2" fill="url(#c47)"/>
<rect x="276.5" y="520" width="173.39999999999998" height="2" fill="url(#c48)"/>
<rect x="276.5" y="522" width="173.39999999999998" height="2" fill="url(#c49)"/>
<rect x="276.5" y="524" width="173.39999999999998" height="2" fill="url(#c50)"/>
<rect x="276.5" y="526" width="173.39999999999998" height="2" fill="url(#c51)"/>
<rect x="276.5" y="528" width="173.39999999999998" height="2" fill="url(#c52)"/>
<rect x="276.5" y="530" width="173.39999999999998" height="2" fill="url(#c53)"/>
<rect x="276.5" y="532" width="173.39999999999998" height="2" fill="url(#c54)"/>
<rect x="276.5" y="534" width="173.39999999999998" height="2" fill="url(#c55)"/>
<rect x="276.5" y="536" width="173.39999999999998" height="2" fill="url(#c56)"/>
<rect x="276.5" y="538" width="173.39999999999998" height="2" fill="url(#c57)"/>
</g>
<polyline points="597.3,371.5 561.1,387.0 528.8,401.9 500.1,415.9 474.4,429.3 451.3,441.8 430.5,453.5 411.7,464.5 394.7,474.8 379.3,484.5 365.2,493.5 352.3,501.9 340.5,509.8 329.7,517.2 319.7,524.2 310.4,530.7 301.9,536.8 294.0,542.6 286.6,548.0 279.7,553.2 273.3,558.0 267.3,562.5 261.7,566.9 256.5,570.9 251.5,574.8 246.9,578.5 242.5,581.9 238.3,585.2 234.4,588.4 230.7,591.4 227.2,594.2 223.9,596.9 220.8,599.5" fill="none" stroke="#000" stroke-width="2.0" clip-path="url(#cc)"/>
<rect x="358.2" y="476.6" width="9.4" height="8.8" fill="rgba(255,255,255,0.35)" stroke="#111" stroke-width="1"/>
<circle cx="398.5" cy="459.0" r="3.05" fill="rgb(0,0,0)" stroke="#111" stroke-width="0.8"/>
<circle cx="385.7" cy="475.3" r="3.05" fill="rgb(13,13,13)" stroke="#111" stroke-width="0.8"/>
<circle cx="363.5" cy="482.0" r="3.05" fill="rgb(26,26,26)" stroke="#111" stroke-width="0.8"/>
<circle cx="351.3" cy="489.8" r="3.05" fill="rgb(38,38,38)" stroke="#111" stroke-width="0.8"/>
<circle cx="353.1" cy="485.4" r="3.05" fill="rgb(51,51,51)" stroke="#111" stroke-width="0.8"/>
<circle cx="356.9" cy="488.7" r="3.05" fill="rgb(64,64,64)" stroke="#111" stroke-width="0.8"/>
<circle cx="359.3" cy="481.8" r="3.05" fill="rgb(76,76,76)" stroke="#111" stroke-width="0.8"/>
<circle cx="353.8" cy="493.3" r="3.05" fill="rgb(89,89,89)" stroke="#111" stroke-width="0.8"/>
<circle cx="353.4" cy="492.1" r="3.05" fill="rgb(102,102,102)" stroke="#111" stroke-width="0.8"/>
<circle cx="355.1" cy="489.1" r="3.05" fill="rgb(115,115,115)" stroke="#111" stroke-width="0.8"/>
<circle cx="358.6" cy="488.7" r="3.05" fill="rgb(128,128,128)" stroke="#111" stroke-width="0.8"/>
<circle cx="361.7" cy="485.0" r="3.05" fill="rgb(140,140,140)" stroke="#111" stroke-width="0.8"/>
<circle cx="364.9" cy="484.5" r="3.05" fill="rgb(153,153,153)" stroke="#111" stroke-width="0.8"/>
<circle cx="367.6" cy="484.8" r="3.05" fill="rgb(166,166,166)" stroke="#111" stroke-width="0.8"/>
<circle cx="370.1" cy="484.3" r="3.05" fill="rgb(178,178,178)" stroke="#111" stroke-width="0.8"/>
<circle cx="369.7" cy="483.8" r="3.05" fill="rgb(191,191,191)" stroke="#111" stroke-width="0.8"/>
<circle cx="368.0" cy="484.1" r="3.05" fill="rgb(204,204,204)" stroke="#111" stroke-width="0.8"/>
<circle cx="366.2" cy="483.4" r="3.05" fill="rgb(217,217,217)" stroke="#111" stroke-width="0.8"/>
<circle cx="364.5" cy="482.9" r="3.05" fill="rgb(230,230,230)" stroke="#111" stroke-width="0.8"/>
<circle cx="361.6" cy="482.5" r="3.05" fill="rgb(242,242,242)" stroke="#111" stroke-width="0.8"/>
<circle cx="352.2" cy="480.4" r="3.05" fill="rgb(255,255,255)" stroke="#111" stroke-width="0.8"/>
<rect x="276.5" y="424.6" width="173.39999999999998" height="113.39999999999998" fill="none" stroke="rgba(175,175,175,0.85)" stroke-width="1.3"/>
<line x1="272.3" y1="503.50" x2="276.5" y2="503.50" stroke="#a2a2a2" stroke-width="1.1"/>
<line x1="272.3" y1="457.50" x2="276.5" y2="457.50" stroke="#a2a2a2" stroke-width="1.1"/>
<line x1="284.05" y1="538.0" x2="284.05" y2="542.6" stroke="#a2a2a2" stroke-width="1.1"/>
<line x1="318.71" y1="538.0" x2="318.71" y2="542.6" stroke="#a2a2a2" stroke-width="1.1"/>
<line x1="353.37" y1="538.0" x2="353.37" y2="542.6" stroke="#a2a2a2" stroke-width="1.1"/>
<line x1="388.03" y1="538.0" x2="388.03" y2="542.6" stroke="#a2a2a2" stroke-width="1.1"/>
<line x1="422.69" y1="538.0" x2="422.69" y2="542.6" stroke="#a2a2a2" stroke-width="1.1"/>
<rect x="457.5" y="404.3" width="711.8" height="17.4" fill="url(#th)"/>
<rect x="457.5" y="404.3" width="7.5" height="17.4" fill="#000"/>
<g clip-path="url(#tc)">
<rect x="457.5" y="421.60" width="711.8" height="16.15" fill="#3c3c3c"/>
<rect x="457.5" y="437.65" width="711.8" height="16.15" fill="#787878"/>
<rect x="457.5" y="453.70" width="711.8" height="16.15" fill="#3c3c3c"/>
<rect x="457.5" y="469.75" width="711.8" height="16.15" fill="#787878"/>
<rect x="457.5" y="485.80" width="711.8" height="16.15" fill="#3c3c3c"/>
<rect x="457.5" y="501.85" width="711.8" height="16.15" fill="#787878"/>
<rect x="457.5" y="517.90" width="711.8" height="16.15" fill="#3c3c3c"/>
<rect x="457.5" y="533.95" width="711.8" height="16.15" fill="#787878"/>
<rect x="457.5" y="421.7" width="7.5" height="138" fill="#232323"/>
</g>
<rect x="457.5" y="550" width="711.8" height="9.8" fill="#4e4e4e"/>
<rect x="457.5" y="550" width="7.5" height="9.8" fill="#232323"/>
<rect x="465" y="550.4" width="9.2" height="9" fill="#8a8a8a"/>
<path d="M471.6 552.2 L471.6 557.8 L468.0 555 Z" fill="#222"/>
<path d="M474.2 550.4 L936 550.4 Q939.8 550.4 939.8 554.9 Q939.8 559.4 936 559.4 L474.2 559.4 Z" fill="#3a3a3a"/>
<rect x="1160.8" y="550.6" width="8.5" height="8.8" fill="#7c7c7c"/>
<path d="M1163.4 552 L1163.4 558 L1167.2 555 Z" fill="#2a2a2a"/>
<rect x="457.5" y="559.8" width="711.8" height="1" fill="#474747"/>
<rect x="0" y="0" width="1.6" height="563" fill="#292929"/>
<rect x="1197.2" y="0" width="2.8" height="563" fill="#3a3a3a"/>
</g>
<g style="will-change:transform">
<text x="29.10" y="33.80" font-size="28" fill="#f2f2f2" textLength="118.9" lengthAdjust="spacingAndGlyphs" >Grayscale</text>
<text x="157.60" y="33.80" font-size="28" fill="#f2f2f2" textLength="11.5" lengthAdjust="spacingAndGlyphs" >-</text>
<text x="172.00" y="33.80" font-size="28" fill="#f2f2f2" textLength="66.5" lengthAdjust="spacingAndGlyphs" >Multi</text>
<text x="101.30" y="65.80" font-size="13.3" fill="#f0f0f0" textLength="73.7" lengthAdjust="spacingAndGlyphs" >dE Formula:</text>
<text x="183.80" y="66.50" font-size="11" fill="#f0f0f0" textLength="24.2" lengthAdjust="spacingAndGlyphs" >2000</text>
<text x="154.60" y="88.80" font-size="9" fill="#cfcfcf" text-anchor="middle" textLength="54.2" lengthAdjust="spacingAndGlyphs" >DeltaE 2000</text>
<text x="66.60" y="251.23" font-size="10" fill="#cfcfcf" text-anchor="end" >0</text>
<text x="49.20" y="243.89" font-size="10" fill="#cfcfcf" text-anchor="end" >5</text>
<text x="66.60" y="236.14" font-size="10" fill="#cfcfcf" text-anchor="end" >10</text>
<text x="49.20" y="228.80" font-size="10" fill="#cfcfcf" text-anchor="end" >15</text>
<text x="66.60" y="221.06" font-size="10" fill="#cfcfcf" text-anchor="end" >20</text>
<text x="49.20" y="213.71" font-size="10" fill="#cfcfcf" text-anchor="end" >25</text>
<text x="66.60" y="205.97" font-size="10" fill="#cfcfcf" text-anchor="end" >30</text>
<text x="49.20" y="198.63" font-size="10" fill="#cfcfcf" text-anchor="end" >35</text>
<text x="66.60" y="190.89" font-size="10" fill="#cfcfcf" text-anchor="end" >40</text>
<text x="49.20" y="183.54" font-size="10" fill="#cfcfcf" text-anchor="end" >45</text>
<text x="66.60" y="175.80" font-size="10" fill="#cfcfcf" text-anchor="end" >50</text>
<text x="49.20" y="168.46" font-size="10" fill="#cfcfcf" text-anchor="end" >55</text>
<text x="66.60" y="160.71" font-size="10" fill="#cfcfcf" text-anchor="end" >60</text>
<text x="49.20" y="153.37" font-size="10" fill="#cfcfcf" text-anchor="end" >65</text>
<text x="66.60" y="145.63" font-size="10" fill="#cfcfcf" text-anchor="end" >70</text>
<text x="49.20" y="138.29" font-size="10" fill="#cfcfcf" text-anchor="end" >75</text>
<text x="66.60" y="130.54" font-size="10" fill="#cfcfcf" text-anchor="end" >80</text>
<text x="49.20" y="123.20" font-size="10" fill="#cfcfcf" text-anchor="end" >85</text>
<text x="66.60" y="115.46" font-size="10" fill="#cfcfcf" text-anchor="end" >90</text>
<text x="49.20" y="108.11" font-size="10" fill="#cfcfcf" text-anchor="end" >95</text>
<text x="66.60" y="100.37" font-size="10" fill="#cfcfcf" text-anchor="end" >100</text>
<text x="71.30" y="265.70" font-size="10" fill="#cfcfcf" text-anchor="middle" >0</text>
<text x="97.60" y="265.70" font-size="10" fill="#cfcfcf" text-anchor="middle" >2</text>
<text x="123.90" y="265.70" font-size="10" fill="#cfcfcf" text-anchor="middle" >4</text>
<text x="150.20" y="265.70" font-size="10" fill="#cfcfcf" text-anchor="middle" >6</text>
<text x="176.50" y="265.70" font-size="10" fill="#cfcfcf" text-anchor="middle" >8</text>
<text x="202.80" y="265.70" font-size="10" fill="#cfcfcf" text-anchor="middle" >10</text>
<text x="229.10" y="265.70" font-size="10" fill="#cfcfcf" text-anchor="middle" >12</text>
<text x="255.40" y="265.70" font-size="10" fill="#cfcfcf" text-anchor="middle" >14</text>
<text x="503.90" y="26.70" font-size="9" fill="#cfcfcf" text-anchor="middle" textLength="56.4" lengthAdjust="spacingAndGlyphs" >RGB Balance</text>
<text x="311.30" y="255.10" font-size="10" fill="#cfcfcf" text-anchor="end" >-40</text>
<text x="311.30" y="228.60" font-size="10" fill="#cfcfcf" text-anchor="end" >-30</text>
<text x="311.30" y="201.10" font-size="10" fill="#cfcfcf" text-anchor="end" >-20</text>
<text x="311.30" y="173.60" font-size="10" fill="#cfcfcf" text-anchor="end" >-10</text>
<text x="311.30" y="146.10" font-size="10" fill="#cfcfcf" text-anchor="end" >0</text>
<text x="311.30" y="118.60" font-size="10" fill="#cfcfcf" text-anchor="end" >10</text>
<text x="311.30" y="91.10" font-size="10" fill="#cfcfcf" text-anchor="end" >20</text>
<text x="311.30" y="63.60" font-size="10" fill="#cfcfcf" text-anchor="end" >30</text>
<text x="311.30" y="36.00" font-size="10" fill="#cfcfcf" text-anchor="end" >40</text>
<text x="315.50" y="265.70" font-size="10" fill="#cfcfcf" text-anchor="middle" >0</text>
<text x="355.00" y="265.70" font-size="10" fill="#cfcfcf" text-anchor="middle" >10</text>
<text x="394.50" y="265.70" font-size="10" fill="#cfcfcf" text-anchor="middle" >20</text>
<text x="434.00" y="265.70" font-size="10" fill="#cfcfcf" text-anchor="middle" >30</text>
<text x="473.50" y="265.70" font-size="10" fill="#cfcfcf" text-anchor="middle" >40</text>
<text x="513.00" y="265.70" font-size="10" fill="#cfcfcf" text-anchor="middle" >50</text>
<text x="552.50" y="265.70" font-size="10" fill="#cfcfcf" text-anchor="middle" >60</text>
<text x="592.00" y="265.70" font-size="10" fill="#cfcfcf" text-anchor="middle" >70</text>
<text x="631.50" y="265.70" font-size="10" fill="#cfcfcf" text-anchor="middle" >80</text>
<text x="671.00" y="265.70" font-size="10" fill="#cfcfcf" text-anchor="middle" >90</text>
<text x="710.50" y="265.70" font-size="10" fill="#cfcfcf" text-anchor="middle" >100</text>
<text x="787.60" y="26.60" font-size="9" fill="#cfcfcf" text-anchor="middle" textLength="56.8" lengthAdjust="spacingAndGlyphs" >RGB Balance</text>
<text x="742.50" y="259.30" font-size="10" fill="#cfcfcf" text-anchor="end" >-4</text>
<text x="742.50" y="231.45" font-size="10" fill="#cfcfcf" text-anchor="end" >-3</text>
<text x="742.50" y="203.60" font-size="10" fill="#cfcfcf" text-anchor="end" >-2</text>
<text x="742.50" y="175.75" font-size="10" fill="#cfcfcf" text-anchor="end" >-1</text>
<text x="742.50" y="147.90" font-size="10" fill="#cfcfcf" text-anchor="end" >0</text>
<text x="742.50" y="120.05" font-size="10" fill="#cfcfcf" text-anchor="end" >1</text>
<text x="742.50" y="92.20" font-size="10" fill="#cfcfcf" text-anchor="end" >2</text>
<text x="742.50" y="64.35" font-size="10" fill="#cfcfcf" text-anchor="end" >3</text>
<text x="742.50" y="36.50" font-size="10" fill="#cfcfcf" text-anchor="end" >4</text>
<text x="794.30" y="265.70" font-size="10" fill="#cfcfcf" text-anchor="middle" >0</text>
<text x="1010.60" y="26.50" font-size="9" fill="#cfcfcf" text-anchor="middle" textLength="74.7" lengthAdjust="spacingAndGlyphs" >Gamma Log/Log</text>
<text x="878.20" y="255.10" font-size="10" fill="#cfcfcf" text-anchor="end" >1,8</text>
<text x="878.20" y="211.26" font-size="10" fill="#cfcfcf" text-anchor="end" >2</text>
<text x="878.20" y="167.42" font-size="10" fill="#cfcfcf" text-anchor="end" >2,2</text>
<text x="878.20" y="123.58" font-size="10" fill="#cfcfcf" text-anchor="end" >2,4</text>
<text x="878.20" y="79.74" font-size="10" fill="#cfcfcf" text-anchor="end" >2,6</text>
<text x="878.20" y="35.90" font-size="10" fill="#cfcfcf" text-anchor="end" >2,8</text>
<text x="882.50" y="265.70" font-size="10" fill="#cfcfcf" text-anchor="middle" >0</text>
<text x="937.16" y="265.70" font-size="10" fill="#cfcfcf" text-anchor="middle" >20</text>
<text x="991.82" y="265.70" font-size="10" fill="#cfcfcf" text-anchor="middle" >40</text>
<text x="1046.48" y="265.70" font-size="10" fill="#cfcfcf" text-anchor="middle" >60</text>
<text x="1101.14" y="265.70" font-size="10" fill="#cfcfcf" text-anchor="middle" >80</text>
<text x="1155.80" y="265.70" font-size="10" fill="#cfcfcf" text-anchor="middle" >100</text>
<text x="84.00" y="295.00" font-size="21" fill="#f2f2f2" textLength="149.0" lengthAdjust="spacingAndGlyphs" >Avg dE2000: 2,3</text>
<text x="368.00" y="295.00" font-size="21" fill="#f2f2f2" textLength="131.0" lengthAdjust="spacingAndGlyphs" >Avg CCT: 6540</text>
<text x="632.00" y="295.00" font-size="21" fill="#f2f2f2" textLength="178.8" lengthAdjust="spacingAndGlyphs" >Contrast Ratio: 518</text>
<text x="902.50" y="295.00" font-size="21" fill="#f2f2f2" textLength="216.5" lengthAdjust="spacingAndGlyphs" >Average Gamma: 1,866</text>
<text x="125.00" y="391.80" font-size="9.3" fill="#f2f2f2" text-anchor="middle" >0</text>
<text x="175.71" y="391.80" font-size="9.3" fill="#f2f2f2" text-anchor="middle" >5</text>
<text x="226.42" y="391.80" font-size="9.3" fill="#f2f2f2" text-anchor="middle" >10</text>
<text x="277.13" y="391.80" font-size="9.3" fill="#f2f2f2" text-anchor="middle" >15</text>
<text x="327.84" y="391.80" font-size="9.3" fill="#f2f2f2" text-anchor="middle" >20</text>
<text x="378.55" y="391.80" font-size="9.3" fill="#f2f2f2" text-anchor="middle" >25</text>
<text x="429.26" y="391.80" font-size="9.3" fill="#f2f2f2" text-anchor="middle" >30</text>
<text x="479.97" y="391.80" font-size="9.3" fill="#f2f2f2" text-anchor="middle" >35</text>
<text x="530.68" y="391.80" font-size="9.3" fill="#f2f2f2" text-anchor="middle" >40</text>
<text x="581.39" y="391.80" font-size="9.3" fill="#f2f2f2" text-anchor="middle" >45</text>
<text x="632.10" y="391.80" font-size="9.3" fill="#f2f2f2" text-anchor="middle" >50</text>
<text x="682.81" y="391.80" font-size="9.3" fill="#f2f2f2" text-anchor="middle" >55</text>
<text x="733.52" y="391.80" font-size="9.3" fill="#f2f2f2" text-anchor="middle" >60</text>
<text x="784.23" y="391.80" font-size="9.3" fill="#f2f2f2" text-anchor="middle" >65</text>
<text x="834.94" y="391.80" font-size="9.3" fill="#f2f2f2" text-anchor="middle" >70</text>
<text x="885.65" y="391.80" font-size="9.3" fill="#f2f2f2" text-anchor="middle" >75</text>
<text x="936.36" y="391.80" font-size="9.3" fill="#f2f2f2" text-anchor="middle" >80</text>
<text x="987.07" y="391.80" font-size="9.3" fill="#f2f2f2" text-anchor="middle" >85</text>
<text x="1037.78" y="391.80" font-size="9.3" fill="#f2f2f2" text-anchor="middle" >90</text>
<text x="1088.49" y="391.80" font-size="9.3" fill="#f2f2f2" text-anchor="middle" >95</text>
<text x="1139.20" y="391.80" font-size="9.3" fill="#f2f2f2" text-anchor="middle" >100</text>
<text transform="translate(100.3,339) rotate(-90)" font-size="9" fill="#e8e8e8" textLength="24" lengthAdjust="spacingAndGlyphs">Actual</text>
<text transform="translate(100.3,378.8) rotate(-90)" font-size="9" fill="#e8e8e8" textLength="24.2" lengthAdjust="spacingAndGlyphs">Target</text>
<text x="38.90" y="444.00" font-size="19.2" fill="#f2f2f2" textLength="70.8" lengthAdjust="spacingAndGlyphs" >Current</text>
<text x="115.00" y="444.00" font-size="19.2" fill="#f2f2f2" textLength="76.0" lengthAdjust="spacingAndGlyphs" >Reading</text>
<text x="40.00" y="473.30" font-size="16.7" fill="#f2f2f2" textLength="69.8" lengthAdjust="spacingAndGlyphs" >x: 0,3231</text>
<text x="142.70" y="473.30" font-size="16.7" fill="#f2f2f2" textLength="70.7" lengthAdjust="spacingAndGlyphs" >y: 0,3387</text>
<text x="40.00" y="496.70" font-size="16.7" fill="#f2f2f2" textLength="75.8" lengthAdjust="spacingAndGlyphs" >u': 0,2014</text>
<text x="142.70" y="496.70" font-size="16.7" fill="#f2f2f2" textLength="75.5" lengthAdjust="spacingAndGlyphs" >v': 0,4749</text>
<text x="40.00" y="520.00" font-size="16.7" fill="#f2f2f2" textLength="109.2" lengthAdjust="spacingAndGlyphs" >cd/m²: 2,5228</text>
<text x="40.00" y="543.00" font-size="16.7" fill="#f2f2f2" textLength="105.8" lengthAdjust="spacingAndGlyphs" >ΔE 2000: 0,25</text>
<text x="351.10" y="421.00" font-size="9" fill="#cfcfcf" text-anchor="middle" textLength="51.0" lengthAdjust="spacingAndGlyphs" >CIE 1931 xy</text>
<text x="272.50" y="507.80" font-size="10" fill="#cfcfcf" text-anchor="end" >0,32</text>
<text x="272.50" y="461.80" font-size="10" fill="#cfcfcf" text-anchor="end" >0,34</text>
<text x="284.05" y="553.30" font-size="10" fill="#cfcfcf" text-anchor="middle" >0,29</text>
<text x="318.71" y="553.30" font-size="10" fill="#cfcfcf" text-anchor="middle" >0,3</text>
<text x="353.37" y="553.30" font-size="10" fill="#cfcfcf" text-anchor="middle" >0,31</text>
<text x="388.03" y="553.30" font-size="10" fill="#cfcfcf" text-anchor="middle" >0,32</text>
<text x="422.69" y="553.30" font-size="10" fill="#cfcfcf" text-anchor="middle" >0,33</text>
<g clip-path="url(#tc)">
<text x="538.90" y="417.00" font-size="9.5" fill="#ffffff" textLength="4.8" lengthAdjust="spacingAndGlyphs" >0</text>
<text x="584.99" y="417.00" font-size="9.5" fill="#ffffff" textLength="4.8" lengthAdjust="spacingAndGlyphs" >5</text>
<text x="631.07" y="417.00" font-size="9.5" fill="#ffffff" textLength="9.5" lengthAdjust="spacingAndGlyphs" >10</text>
<text x="677.15" y="417.00" font-size="9.5" fill="#ffffff" textLength="9.5" lengthAdjust="spacingAndGlyphs" >15</text>
<text x="723.24" y="417.00" font-size="9.5" fill="#ffffff" textLength="9.5" lengthAdjust="spacingAndGlyphs" >20</text>
<text x="769.33" y="417.00" font-size="9.5" fill="#ffffff" textLength="9.5" lengthAdjust="spacingAndGlyphs" >25</text>
<text x="815.41" y="417.00" font-size="9.5" fill="#ffffff" textLength="9.5" lengthAdjust="spacingAndGlyphs" >30</text>
<text x="861.50" y="417.00" font-size="9.5" fill="#ffffff" textLength="9.5" lengthAdjust="spacingAndGlyphs" >35</text>
<text x="907.58" y="417.00" font-size="9.5" fill="#ffffff" textLength="9.5" lengthAdjust="spacingAndGlyphs" >40</text>
<text x="953.66" y="417.00" font-size="9.5" fill="#ffffff" textLength="9.5" lengthAdjust="spacingAndGlyphs" >45</text>
<text x="999.75" y="417.00" font-size="9.5" fill="#ffffff" textLength="9.5" lengthAdjust="spacingAndGlyphs" >50</text>
<text x="1045.84" y="417.00" font-size="9.5" fill="#ffffff" textLength="9.5" lengthAdjust="spacingAndGlyphs" >55</text>
<text x="1091.92" y="417.00" font-size="9.5" fill="#ffffff" textLength="9.5" lengthAdjust="spacingAndGlyphs" >60</text>
<text x="1138.01" y="417.00" font-size="9.5" fill="#ffffff" textLength="9.5" lengthAdjust="spacingAndGlyphs" >65</text>
<text x="467.30" y="433.60" font-size="10" fill="#ececec" textLength="30.5" lengthAdjust="spacingAndGlyphs" >x: CIE31</text>
<text x="538.80" y="433.30" font-size="10" fill="#ececec" textLength="25.7" lengthAdjust="spacingAndGlyphs" >0,3231</text>
<text x="584.88" y="433.30" font-size="10" fill="#ececec" textLength="25.7" lengthAdjust="spacingAndGlyphs" >0,3194</text>
<text x="630.97" y="433.30" font-size="10" fill="#ececec" textLength="25.7" lengthAdjust="spacingAndGlyphs" >0,3130</text>
<text x="677.05" y="433.30" font-size="10" fill="#ececec" textLength="25.7" lengthAdjust="spacingAndGlyphs" >0,3095</text>
<text x="723.14" y="433.30" font-size="10" fill="#ececec" textLength="25.7" lengthAdjust="spacingAndGlyphs" >0,3100</text>
<text x="769.22" y="433.30" font-size="10" fill="#ececec" textLength="25.7" lengthAdjust="spacingAndGlyphs" >0,3111</text>
<text x="815.31" y="433.30" font-size="10" fill="#ececec" textLength="25.7" lengthAdjust="spacingAndGlyphs" >0,3118</text>
<text x="861.39" y="433.30" font-size="10" fill="#ececec" textLength="25.7" lengthAdjust="spacingAndGlyphs" >0,3102</text>
<text x="907.48" y="433.30" font-size="10" fill="#ececec" textLength="25.7" lengthAdjust="spacingAndGlyphs" >0,3101</text>
<text x="953.56" y="433.30" font-size="10" fill="#ececec" textLength="25.7" lengthAdjust="spacingAndGlyphs" >0,3106</text>
<text x="999.65" y="433.30" font-size="10" fill="#ececec" textLength="25.7" lengthAdjust="spacingAndGlyphs" >0,3116</text>
<text x="1045.73" y="433.30" font-size="10" fill="#ececec" textLength="25.7" lengthAdjust="spacingAndGlyphs" >0,3125</text>
<text x="1091.82" y="433.30" font-size="10" fill="#ececec" textLength="25.7" lengthAdjust="spacingAndGlyphs" >0,3134</text>
<text x="1137.90" y="433.30" font-size="10" fill="#ececec" textLength="25.7" lengthAdjust="spacingAndGlyphs" >0,3142</text>
<text x="467.30" y="449.65" font-size="10" fill="#ececec" textLength="30.5" lengthAdjust="spacingAndGlyphs" >y: CIE31</text>
<text x="538.80" y="449.35" font-size="10" fill="#ececec" textLength="25.7" lengthAdjust="spacingAndGlyphs" >0,3387</text>
<text x="584.88" y="449.35" font-size="10" fill="#ececec" textLength="25.7" lengthAdjust="spacingAndGlyphs" >0,3316</text>
<text x="630.97" y="449.35" font-size="10" fill="#ececec" textLength="25.7" lengthAdjust="spacingAndGlyphs" >0,3287</text>
<text x="677.05" y="449.35" font-size="10" fill="#ececec" textLength="25.7" lengthAdjust="spacingAndGlyphs" >0,3253</text>
<text x="723.14" y="449.35" font-size="10" fill="#ececec" textLength="25.7" lengthAdjust="spacingAndGlyphs" >0,3272</text>
<text x="769.22" y="449.35" font-size="10" fill="#ececec" textLength="25.7" lengthAdjust="spacingAndGlyphs" >0,3258</text>
<text x="815.31" y="449.35" font-size="10" fill="#ececec" textLength="25.7" lengthAdjust="spacingAndGlyphs" >0,3288</text>
<text x="861.39" y="449.35" font-size="10" fill="#ececec" textLength="25.7" lengthAdjust="spacingAndGlyphs" >0,3238</text>
<text x="907.48" y="449.35" font-size="10" fill="#ececec" textLength="25.7" lengthAdjust="spacingAndGlyphs" >0,3243</text>
<text x="953.56" y="449.35" font-size="10" fill="#ececec" textLength="25.7" lengthAdjust="spacingAndGlyphs" >0,3256</text>
<text x="999.65" y="449.35" font-size="10" fill="#ececec" textLength="25.7" lengthAdjust="spacingAndGlyphs" >0,3258</text>
<text x="1045.73" y="449.35" font-size="10" fill="#ececec" textLength="25.7" lengthAdjust="spacingAndGlyphs" >0,3274</text>
<text x="1091.82" y="449.35" font-size="10" fill="#ececec" textLength="25.7" lengthAdjust="spacingAndGlyphs" >0,3276</text>
<text x="1137.90" y="449.35" font-size="10" fill="#ececec" textLength="25.7" lengthAdjust="spacingAndGlyphs" >0,3275</text>
<text x="467.30" y="465.70" font-size="10" fill="#ececec" textLength="5.5" lengthAdjust="spacingAndGlyphs" >Y</text>
<text x="538.80" y="465.40" font-size="10" fill="#ececec" textLength="25.7" lengthAdjust="spacingAndGlyphs" >2,5228</text>
<text x="584.88" y="465.40" font-size="10" fill="#ececec" textLength="25.7" lengthAdjust="spacingAndGlyphs" >5,5838</text>
<text x="630.97" y="465.40" font-size="10" fill="#ececec" textLength="30.5" lengthAdjust="spacingAndGlyphs" >14,6367</text>
<text x="677.05" y="465.40" font-size="10" fill="#ececec" textLength="30.5" lengthAdjust="spacingAndGlyphs" >29,5291</text>
<text x="723.14" y="465.40" font-size="10" fill="#ececec" textLength="30.5" lengthAdjust="spacingAndGlyphs" >52,6154</text>
<text x="769.22" y="465.40" font-size="10" fill="#ececec" textLength="30.5" lengthAdjust="spacingAndGlyphs" >80,9553</text>
<text x="815.31" y="465.40" font-size="10" fill="#ececec" textLength="35.4" lengthAdjust="spacingAndGlyphs" >117,5273</text>
<text x="861.39" y="465.40" font-size="10" fill="#ececec" textLength="35.4" lengthAdjust="spacingAndGlyphs" >155,8728</text>
<text x="907.48" y="465.40" font-size="10" fill="#ececec" textLength="35.4" lengthAdjust="spacingAndGlyphs" >205,4954</text>
<text x="953.56" y="465.40" font-size="10" fill="#ececec" textLength="35.4" lengthAdjust="spacingAndGlyphs" >259,6159</text>
<text x="999.65" y="465.40" font-size="10" fill="#ececec" textLength="35.4" lengthAdjust="spacingAndGlyphs" >324,6819</text>
<text x="1045.73" y="465.40" font-size="10" fill="#ececec" textLength="35.4" lengthAdjust="spacingAndGlyphs" >389,9257</text>
<text x="1091.82" y="465.40" font-size="10" fill="#ececec" textLength="35.4" lengthAdjust="spacingAndGlyphs" >470,2588</text>
<text x="1137.90" y="465.40" font-size="10" fill="#ececec" textLength="30.5" lengthAdjust="spacingAndGlyphs" >560,735</text>
<text x="467.30" y="481.75" font-size="10" fill="#ececec" textLength="35.5" lengthAdjust="spacingAndGlyphs" >Target Y</text>
<text x="538.80" y="481.45" font-size="10" fill="#ececec" textLength="25.7" lengthAdjust="spacingAndGlyphs" >2,5228</text>
<text x="584.88" y="481.45" font-size="10" fill="#ececec" textLength="25.7" lengthAdjust="spacingAndGlyphs" >4,3309</text>
<text x="630.97" y="481.45" font-size="10" fill="#ececec" textLength="30.5" lengthAdjust="spacingAndGlyphs" >10,8304</text>
<text x="677.05" y="481.45" font-size="10" fill="#ececec" textLength="30.5" lengthAdjust="spacingAndGlyphs" >22,7938</text>
<text x="723.14" y="481.45" font-size="10" fill="#ececec" textLength="30.5" lengthAdjust="spacingAndGlyphs" >40,6944</text>
<text x="769.22" y="481.45" font-size="10" fill="#ececec" textLength="30.5" lengthAdjust="spacingAndGlyphs" >64,8879</text>
<text x="815.31" y="481.45" font-size="10" fill="#ececec" textLength="30.5" lengthAdjust="spacingAndGlyphs" >95,6637</text>
<text x="861.39" y="481.45" font-size="10" fill="#ececec" textLength="35.4" lengthAdjust="spacingAndGlyphs" >133,2673</text>
<text x="907.48" y="481.45" font-size="10" fill="#ececec" textLength="35.4" lengthAdjust="spacingAndGlyphs" >177,9131</text>
<text x="953.56" y="481.45" font-size="10" fill="#ececec" textLength="35.4" lengthAdjust="spacingAndGlyphs" >229,7923</text>
<text x="999.65" y="481.45" font-size="10" fill="#ececec" textLength="35.4" lengthAdjust="spacingAndGlyphs" >289,0776</text>
<text x="1045.73" y="481.45" font-size="10" fill="#ececec" textLength="35.4" lengthAdjust="spacingAndGlyphs" >349,5332</text>
<text x="1091.82" y="481.45" font-size="10" fill="#ececec" textLength="35.4" lengthAdjust="spacingAndGlyphs" >423,3857</text>
<text x="1137.90" y="481.45" font-size="10" fill="#ececec" textLength="30.5" lengthAdjust="spacingAndGlyphs" >505,071</text>
<text x="467.30" y="497.80" font-size="10" fill="#ececec" textLength="65.8" lengthAdjust="spacingAndGlyphs" >Gamma Log/Log</text>
<text x="538.80" y="497.50" font-size="10" fill="#ececec" textLength="25.7" lengthAdjust="spacingAndGlyphs" >0,6785</text>
<text x="584.88" y="497.50" font-size="10" fill="#ececec" textLength="25.7" lengthAdjust="spacingAndGlyphs" >1,8237</text>
<text x="630.97" y="497.50" font-size="10" fill="#ececec" textLength="25.7" lengthAdjust="spacingAndGlyphs" >1,9544</text>
<text x="677.05" y="497.50" font-size="10" fill="#ececec" textLength="25.7" lengthAdjust="spacingAndGlyphs" >2,0023</text>
<text x="723.14" y="497.50" font-size="10" fill="#ececec" textLength="25.7" lengthAdjust="spacingAndGlyphs" >2,0012</text>
<text x="769.22" y="497.50" font-size="10" fill="#ececec" textLength="25.7" lengthAdjust="spacingAndGlyphs" >2,0126</text>
<text x="815.31" y="497.50" font-size="10" fill="#ececec" textLength="25.7" lengthAdjust="spacingAndGlyphs" >2,0077</text>
<text x="861.39" y="497.50" font-size="10" fill="#ececec" textLength="25.7" lengthAdjust="spacingAndGlyphs" >2,0337</text>
<text x="907.48" y="497.50" font-size="10" fill="#ececec" textLength="25.7" lengthAdjust="spacingAndGlyphs" >2,0284</text>
<text x="953.56" y="497.50" font-size="10" fill="#ececec" textLength="25.7" lengthAdjust="spacingAndGlyphs" >2,0348</text>
<text x="999.65" y="497.50" font-size="10" fill="#ececec" textLength="25.7" lengthAdjust="spacingAndGlyphs" >2,0214</text>
<text x="1045.73" y="497.50" font-size="10" fill="#ececec" textLength="25.7" lengthAdjust="spacingAndGlyphs" >2,0094</text>
<text x="1091.82" y="497.50" font-size="10" fill="#ececec" textLength="25.7" lengthAdjust="spacingAndGlyphs" >1,9878</text>
<text x="1137.90" y="497.50" font-size="10" fill="#ececec" textLength="25.7" lengthAdjust="spacingAndGlyphs" >1,9516</text>
<text x="467.30" y="513.85" font-size="10" fill="#ececec" textLength="15.5" lengthAdjust="spacingAndGlyphs" >CCT</text>
<text x="538.80" y="513.55" font-size="10" fill="#ececec" textLength="40.2" lengthAdjust="spacingAndGlyphs" >5927,0000</text>
<text x="584.88" y="513.55" font-size="10" fill="#ececec" textLength="40.2" lengthAdjust="spacingAndGlyphs" >6134,0000</text>
<text x="630.97" y="513.55" font-size="10" fill="#ececec" textLength="40.2" lengthAdjust="spacingAndGlyphs" >6487,0000</text>
<text x="677.05" y="513.55" font-size="10" fill="#ececec" textLength="40.2" lengthAdjust="spacingAndGlyphs" >6713,0000</text>
<text x="723.14" y="513.55" font-size="10" fill="#ececec" textLength="40.2" lengthAdjust="spacingAndGlyphs" >6668,0000</text>
<text x="769.22" y="513.55" font-size="10" fill="#ececec" textLength="40.2" lengthAdjust="spacingAndGlyphs" >6619,0000</text>
<text x="815.31" y="513.55" font-size="10" fill="#ececec" textLength="40.2" lengthAdjust="spacingAndGlyphs" >6556,0000</text>
<text x="861.39" y="513.55" font-size="10" fill="#ececec" textLength="40.2" lengthAdjust="spacingAndGlyphs" >6688,0000</text>
<text x="907.48" y="513.55" font-size="10" fill="#ececec" textLength="40.2" lengthAdjust="spacingAndGlyphs" >6688,0000</text>
<text x="953.56" y="513.55" font-size="10" fill="#ececec" textLength="40.2" lengthAdjust="spacingAndGlyphs" >6647,0000</text>
<text x="999.65" y="513.55" font-size="10" fill="#ececec" textLength="40.2" lengthAdjust="spacingAndGlyphs" >6588,0000</text>
<text x="1045.73" y="513.55" font-size="10" fill="#ececec" textLength="40.2" lengthAdjust="spacingAndGlyphs" >6527,0000</text>
<text x="1091.82" y="513.55" font-size="10" fill="#ececec" textLength="40.2" lengthAdjust="spacingAndGlyphs" >6474,0000</text>
<text x="1137.90" y="513.55" font-size="10" fill="#ececec" textLength="30.5" lengthAdjust="spacingAndGlyphs" >6431,00</text>
<text x="467.30" y="529.90" font-size="10" fill="#ececec" textLength="32.0" lengthAdjust="spacingAndGlyphs" >ΔE 2000</text>
<text x="538.80" y="529.60" font-size="10" fill="#ececec" textLength="25.7" lengthAdjust="spacingAndGlyphs" >0,2519</text>
<text x="584.88" y="529.60" font-size="10" fill="#ececec" textLength="25.7" lengthAdjust="spacingAndGlyphs" >0,6477</text>
<text x="630.97" y="529.60" font-size="10" fill="#ececec" textLength="25.7" lengthAdjust="spacingAndGlyphs" >1,5314</text>
<text x="677.05" y="529.60" font-size="10" fill="#ececec" textLength="25.7" lengthAdjust="spacingAndGlyphs" >1,8818</text>
<text x="723.14" y="529.60" font-size="10" fill="#ececec" textLength="25.7" lengthAdjust="spacingAndGlyphs" >2,3609</text>
<text x="769.22" y="529.60" font-size="10" fill="#ececec" textLength="25.7" lengthAdjust="spacingAndGlyphs" >2,5854</text>
<text x="815.31" y="529.60" font-size="10" fill="#ececec" textLength="25.7" lengthAdjust="spacingAndGlyphs" >2,8245</text>
<text x="861.39" y="529.60" font-size="10" fill="#ececec" textLength="25.7" lengthAdjust="spacingAndGlyphs" >2,9702</text>
<text x="907.48" y="529.60" font-size="10" fill="#ececec" textLength="25.7" lengthAdjust="spacingAndGlyphs" >3,1392</text>
<text x="953.56" y="529.60" font-size="10" fill="#ececec" textLength="25.7" lengthAdjust="spacingAndGlyphs" >2,9098</text>
<text x="999.65" y="529.60" font-size="10" fill="#ececec" textLength="25.7" lengthAdjust="spacingAndGlyphs" >2,9128</text>
<text x="1045.73" y="529.60" font-size="10" fill="#ececec" textLength="25.7" lengthAdjust="spacingAndGlyphs" >2,5756</text>
<text x="1091.82" y="529.60" font-size="10" fill="#ececec" textLength="25.7" lengthAdjust="spacingAndGlyphs" >2,6164</text>
<text x="1137.90" y="529.60" font-size="10" fill="#ececec" textLength="25.7" lengthAdjust="spacingAndGlyphs" >2,9071</text>
<text x="467.30" y="545.95" font-size="10" fill="#ececec" textLength="22.0" lengthAdjust="spacingAndGlyphs" >dEITP</text>
<text x="538.80" y="545.65" font-size="10" fill="#ececec" textLength="25.7" lengthAdjust="spacingAndGlyphs" >3,6082</text>
<text x="584.88" y="545.65" font-size="10" fill="#ececec" textLength="30.5" lengthAdjust="spacingAndGlyphs" >13,2082</text>
<text x="630.97" y="545.65" font-size="10" fill="#ececec" textLength="30.5" lengthAdjust="spacingAndGlyphs" >17,6697</text>
<text x="677.05" y="545.65" font-size="10" fill="#ececec" textLength="30.5" lengthAdjust="spacingAndGlyphs" >16,7301</text>
<text x="723.14" y="545.65" font-size="10" fill="#ececec" textLength="30.5" lengthAdjust="spacingAndGlyphs" >17,5301</text>
<text x="769.22" y="545.65" font-size="10" fill="#ececec" textLength="30.5" lengthAdjust="spacingAndGlyphs" >15,7291</text>
<text x="815.31" y="545.65" font-size="10" fill="#ececec" textLength="30.5" lengthAdjust="spacingAndGlyphs" >14,9339</text>
<text x="861.39" y="545.65" font-size="10" fill="#ececec" textLength="30.5" lengthAdjust="spacingAndGlyphs" >11,8814</text>
<text x="907.48" y="545.65" font-size="10" fill="#ececec" textLength="30.5" lengthAdjust="spacingAndGlyphs" >11,0860</text>
<text x="953.56" y="545.65" font-size="10" fill="#ececec" textLength="25.7" lengthAdjust="spacingAndGlyphs" >9,4416</text>
<text x="999.65" y="545.65" font-size="10" fill="#ececec" textLength="25.7" lengthAdjust="spacingAndGlyphs" >9,0620</text>
<text x="1045.73" y="545.65" font-size="10" fill="#ececec" textLength="25.7" lengthAdjust="spacingAndGlyphs" >8,4988</text>
<text x="1091.82" y="545.65" font-size="10" fill="#ececec" textLength="25.7" lengthAdjust="spacingAndGlyphs" >8,2514</text>
<text x="1137.90" y="545.65" font-size="10" fill="#ececec" textLength="25.7" lengthAdjust="spacingAndGlyphs" >8,3562</text>
</g>
</g>
</svg>
</body></html>
